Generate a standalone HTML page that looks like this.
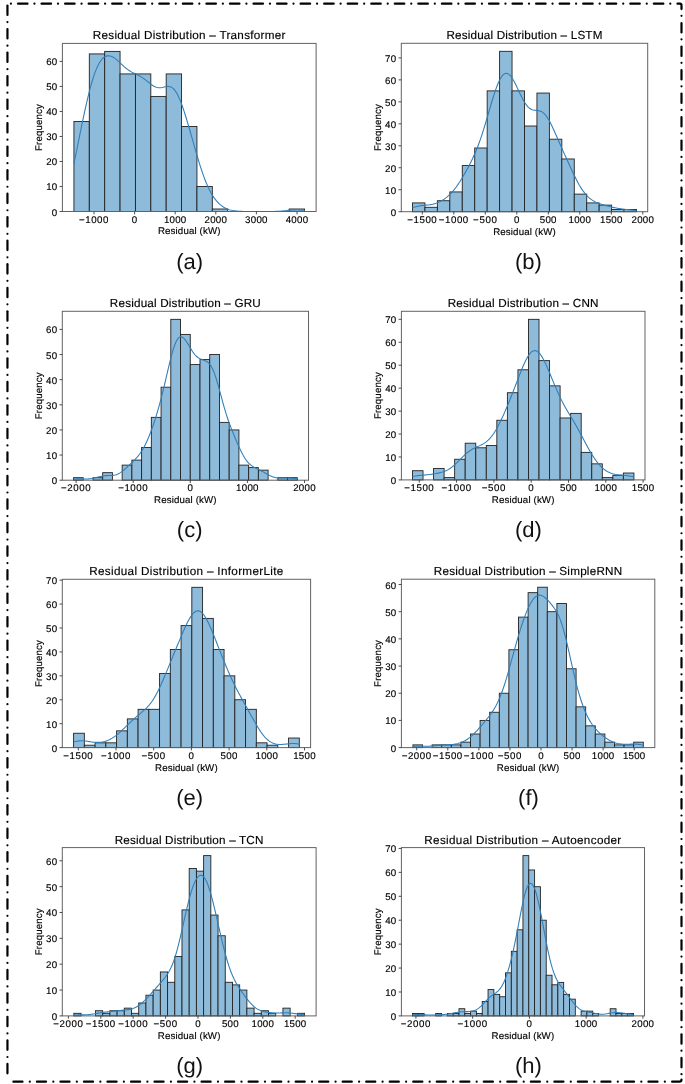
<!DOCTYPE html>
<html><head><meta charset="utf-8"><title>Residual Distributions</title>
<style>html,body{margin:0;padding:0;background:#fff}body{width:685px;height:1084px;position:relative;overflow:hidden;font-family:"Liberation Sans",sans-serif}</style></head>
<body>
<svg width="685" height="1084" viewBox="0 0 685 1084" style="position:absolute;left:0;top:0;will-change:transform;text-rendering:geometricPrecision;font-family:'Liberation Sans',sans-serif">
<rect width="685" height="1084" fill="#fff"/>
<g stroke="#000" stroke-width="2.2" stroke-linecap="round" fill="none">
<path d="M7.45 5.50L7.45 14.90"/>
<path d="M7.45 29.02L7.45 38.42"/>
<path d="M7.45 52.54L7.45 61.94"/>
<path d="M7.45 76.06L7.45 85.46"/>
<path d="M7.45 99.58L7.45 108.98"/>
<path d="M7.45 123.10L7.45 132.50"/>
<path d="M7.45 146.62L7.45 156.02"/>
<path d="M7.45 170.14L7.45 179.54"/>
<path d="M7.45 193.66L7.45 203.06"/>
<path d="M7.45 217.18L7.45 226.58"/>
<path d="M7.45 240.70L7.45 250.10"/>
<path d="M7.45 264.22L7.45 273.62"/>
<path d="M7.45 287.74L7.45 297.14"/>
<path d="M7.45 311.26L7.45 320.66"/>
<path d="M7.45 334.78L7.45 344.18"/>
<path d="M7.45 358.30L7.45 367.70"/>
<path d="M7.45 381.82L7.45 391.22"/>
<path d="M7.45 405.34L7.45 414.74"/>
<path d="M7.45 428.86L7.45 438.26"/>
<path d="M7.45 452.38L7.45 461.78"/>
<path d="M7.45 475.90L7.45 485.30"/>
<path d="M7.45 499.42L7.45 508.82"/>
<path d="M7.45 522.94L7.45 532.34"/>
<path d="M7.45 546.46L7.45 555.86"/>
<path d="M7.45 569.98L7.45 579.38"/>
<path d="M7.45 593.50L7.45 602.90"/>
<path d="M7.45 617.02L7.45 626.42"/>
<path d="M7.45 640.54L7.45 649.94"/>
<path d="M7.45 664.06L7.45 673.46"/>
<path d="M7.45 687.58L7.45 696.98"/>
<path d="M7.45 711.10L7.45 720.50"/>
<path d="M7.45 734.62L7.45 744.02"/>
<path d="M7.45 758.14L7.45 767.54"/>
<path d="M7.45 781.66L7.45 791.06"/>
<path d="M7.45 805.18L7.45 814.58"/>
<path d="M7.45 828.70L7.45 838.10"/>
<path d="M7.45 852.22L7.45 861.62"/>
<path d="M7.45 875.74L7.45 885.14"/>
<path d="M7.45 899.26L7.45 908.66"/>
<path d="M7.45 922.78L7.45 932.18"/>
<path d="M7.45 946.30L7.45 955.70"/>
<path d="M7.45 969.82L7.45 979.22"/>
<path d="M7.45 993.34L7.45 1002.74"/>
<path d="M7.45 1016.86L7.45 1026.26"/>
<path d="M7.45 1040.38L7.45 1049.78"/>
<path d="M7.45 1063.90L7.45 1073.30"/>
<path d="M7.45 22.10L7.45 22.11"/>
<path d="M7.45 45.62L7.45 45.63"/>
<path d="M7.45 69.14L7.45 69.15"/>
<path d="M7.45 92.66L7.45 92.67"/>
<path d="M7.45 116.18L7.45 116.19"/>
<path d="M7.45 139.70L7.45 139.71"/>
<path d="M7.45 163.22L7.45 163.23"/>
<path d="M7.45 186.74L7.45 186.75"/>
<path d="M7.45 210.26L7.45 210.27"/>
<path d="M7.45 233.78L7.45 233.79"/>
<path d="M7.45 257.30L7.45 257.31"/>
<path d="M7.45 280.82L7.45 280.83"/>
<path d="M7.45 304.34L7.45 304.35"/>
<path d="M7.45 327.86L7.45 327.87"/>
<path d="M7.45 351.38L7.45 351.39"/>
<path d="M7.45 374.90L7.45 374.91"/>
<path d="M7.45 398.42L7.45 398.43"/>
<path d="M7.45 421.94L7.45 421.95"/>
<path d="M7.45 445.46L7.45 445.47"/>
<path d="M7.45 468.98L7.45 468.99"/>
<path d="M7.45 492.50L7.45 492.51"/>
<path d="M7.45 516.02L7.45 516.03"/>
<path d="M7.45 539.54L7.45 539.55"/>
<path d="M7.45 563.06L7.45 563.07"/>
<path d="M7.45 586.58L7.45 586.59"/>
<path d="M7.45 610.10L7.45 610.11"/>
<path d="M7.45 633.62L7.45 633.63"/>
<path d="M7.45 657.14L7.45 657.15"/>
<path d="M7.45 680.66L7.45 680.67"/>
<path d="M7.45 704.18L7.45 704.19"/>
<path d="M7.45 727.70L7.45 727.71"/>
<path d="M7.45 751.22L7.45 751.23"/>
<path d="M7.45 774.74L7.45 774.75"/>
<path d="M7.45 798.26L7.45 798.27"/>
<path d="M7.45 821.78L7.45 821.79"/>
<path d="M7.45 845.30L7.45 845.31"/>
<path d="M7.45 868.82L7.45 868.83"/>
<path d="M7.45 892.34L7.45 892.35"/>
<path d="M7.45 915.86L7.45 915.87"/>
<path d="M7.45 939.38L7.45 939.39"/>
<path d="M7.45 962.90L7.45 962.91"/>
<path d="M7.45 986.42L7.45 986.43"/>
<path d="M7.45 1009.94L7.45 1009.95"/>
<path d="M7.45 1033.46L7.45 1033.47"/>
<path d="M7.45 1056.98L7.45 1056.99"/>
<path d="M10.90 3.70L10.91 3.70"/>
<path d="M34.45 3.70L34.46 3.70"/>
<path d="M58.00 3.70L58.01 3.70"/>
<path d="M81.55 3.70L81.56 3.70"/>
<path d="M105.10 3.70L105.11 3.70"/>
<path d="M128.65 3.70L128.66 3.70"/>
<path d="M152.20 3.70L152.21 3.70"/>
<path d="M175.75 3.70L175.76 3.70"/>
<path d="M199.30 3.70L199.31 3.70"/>
<path d="M222.85 3.70L222.86 3.70"/>
<path d="M246.40 3.70L246.41 3.70"/>
<path d="M269.95 3.70L269.96 3.70"/>
<path d="M293.50 3.70L293.51 3.70"/>
<path d="M317.05 3.70L317.06 3.70"/>
<path d="M340.60 3.70L340.61 3.70"/>
<path d="M364.15 3.70L364.16 3.70"/>
<path d="M387.70 3.70L387.71 3.70"/>
<path d="M411.25 3.70L411.26 3.70"/>
<path d="M434.80 3.70L434.81 3.70"/>
<path d="M458.35 3.70L458.36 3.70"/>
<path d="M481.90 3.70L481.91 3.70"/>
<path d="M505.45 3.70L505.46 3.70"/>
<path d="M529.00 3.70L529.01 3.70"/>
<path d="M552.55 3.70L552.56 3.70"/>
<path d="M576.10 3.70L576.11 3.70"/>
<path d="M599.65 3.70L599.66 3.70"/>
<path d="M623.20 3.70L623.21 3.70"/>
<path d="M646.75 3.70L646.76 3.70"/>
<path d="M670.30 3.70L670.31 3.70"/>
<path d="M18.00 3.70L27.50 3.70"/>
<path d="M41.55 3.70L51.05 3.70"/>
<path d="M65.10 3.70L74.60 3.70"/>
<path d="M88.65 3.70L98.15 3.70"/>
<path d="M112.20 3.70L121.70 3.70"/>
<path d="M135.75 3.70L145.25 3.70"/>
<path d="M159.30 3.70L168.80 3.70"/>
<path d="M182.85 3.70L192.35 3.70"/>
<path d="M206.40 3.70L215.90 3.70"/>
<path d="M229.95 3.70L239.45 3.70"/>
<path d="M253.50 3.70L263.00 3.70"/>
<path d="M277.05 3.70L286.55 3.70"/>
<path d="M300.60 3.70L310.10 3.70"/>
<path d="M324.15 3.70L333.65 3.70"/>
<path d="M347.70 3.70L357.20 3.70"/>
<path d="M371.25 3.70L380.75 3.70"/>
<path d="M394.80 3.70L404.30 3.70"/>
<path d="M418.35 3.70L427.85 3.70"/>
<path d="M441.90 3.70L451.40 3.70"/>
<path d="M465.45 3.70L474.95 3.70"/>
<path d="M489.00 3.70L498.50 3.70"/>
<path d="M512.55 3.70L522.05 3.70"/>
<path d="M536.10 3.70L545.60 3.70"/>
<path d="M559.65 3.70L569.15 3.70"/>
<path d="M583.20 3.70L592.70 3.70"/>
<path d="M606.75 3.70L616.25 3.70"/>
<path d="M630.30 3.70L639.80 3.70"/>
<path d="M653.85 3.70L663.35 3.70"/>
<path d="M677.50 3.7L680.00 3.7Q681.5 3.7 681.5 5.2L681.5 9.10"/>
<path d="M681.50 15.80L681.50 15.81"/>
<path d="M681.50 39.32L681.50 39.33"/>
<path d="M681.50 62.84L681.50 62.85"/>
<path d="M681.50 86.36L681.50 86.37"/>
<path d="M681.50 109.88L681.50 109.89"/>
<path d="M681.50 133.40L681.50 133.41"/>
<path d="M681.50 156.92L681.50 156.93"/>
<path d="M681.50 180.44L681.50 180.45"/>
<path d="M681.50 203.96L681.50 203.97"/>
<path d="M681.50 227.48L681.50 227.49"/>
<path d="M681.50 251.00L681.50 251.01"/>
<path d="M681.50 274.52L681.50 274.53"/>
<path d="M681.50 298.04L681.50 298.05"/>
<path d="M681.50 321.56L681.50 321.57"/>
<path d="M681.50 345.08L681.50 345.09"/>
<path d="M681.50 368.60L681.50 368.61"/>
<path d="M681.50 392.12L681.50 392.13"/>
<path d="M681.50 415.64L681.50 415.65"/>
<path d="M681.50 439.16L681.50 439.17"/>
<path d="M681.50 462.68L681.50 462.69"/>
<path d="M681.50 486.20L681.50 486.21"/>
<path d="M681.50 509.72L681.50 509.73"/>
<path d="M681.50 533.24L681.50 533.25"/>
<path d="M681.50 556.76L681.50 556.77"/>
<path d="M681.50 580.28L681.50 580.29"/>
<path d="M681.50 603.80L681.50 603.81"/>
<path d="M681.50 627.32L681.50 627.33"/>
<path d="M681.50 650.84L681.50 650.85"/>
<path d="M681.50 674.36L681.50 674.37"/>
<path d="M681.50 697.88L681.50 697.89"/>
<path d="M681.50 721.40L681.50 721.41"/>
<path d="M681.50 744.92L681.50 744.93"/>
<path d="M681.50 768.44L681.50 768.45"/>
<path d="M681.50 791.96L681.50 791.97"/>
<path d="M681.50 815.48L681.50 815.49"/>
<path d="M681.50 839.00L681.50 839.01"/>
<path d="M681.50 862.52L681.50 862.53"/>
<path d="M681.50 886.04L681.50 886.05"/>
<path d="M681.50 909.56L681.50 909.57"/>
<path d="M681.50 933.08L681.50 933.09"/>
<path d="M681.50 956.60L681.50 956.61"/>
<path d="M681.50 980.12L681.50 980.13"/>
<path d="M681.50 1003.64L681.50 1003.65"/>
<path d="M681.50 1027.16L681.50 1027.17"/>
<path d="M681.50 1050.68L681.50 1050.69"/>
<path d="M681.50 1074.20L681.50 1074.21"/>
<path d="M681.50 23.00L681.50 32.40"/>
<path d="M681.50 46.52L681.50 55.92"/>
<path d="M681.50 70.04L681.50 79.44"/>
<path d="M681.50 93.56L681.50 102.96"/>
<path d="M681.50 117.08L681.50 126.48"/>
<path d="M681.50 140.60L681.50 150.00"/>
<path d="M681.50 164.12L681.50 173.52"/>
<path d="M681.50 187.64L681.50 197.04"/>
<path d="M681.50 211.16L681.50 220.56"/>
<path d="M681.50 234.68L681.50 244.08"/>
<path d="M681.50 258.20L681.50 267.60"/>
<path d="M681.50 281.72L681.50 291.12"/>
<path d="M681.50 305.24L681.50 314.64"/>
<path d="M681.50 328.76L681.50 338.16"/>
<path d="M681.50 352.28L681.50 361.68"/>
<path d="M681.50 375.80L681.50 385.20"/>
<path d="M681.50 399.32L681.50 408.72"/>
<path d="M681.50 422.84L681.50 432.24"/>
<path d="M681.50 446.36L681.50 455.76"/>
<path d="M681.50 469.88L681.50 479.28"/>
<path d="M681.50 493.40L681.50 502.80"/>
<path d="M681.50 516.92L681.50 526.32"/>
<path d="M681.50 540.44L681.50 549.84"/>
<path d="M681.50 563.96L681.50 573.36"/>
<path d="M681.50 587.48L681.50 596.88"/>
<path d="M681.50 611.00L681.50 620.40"/>
<path d="M681.50 634.52L681.50 643.92"/>
<path d="M681.50 658.04L681.50 667.44"/>
<path d="M681.50 681.56L681.50 690.96"/>
<path d="M681.50 705.08L681.50 714.48"/>
<path d="M681.50 728.60L681.50 738.00"/>
<path d="M681.50 752.12L681.50 761.52"/>
<path d="M681.50 775.64L681.50 785.04"/>
<path d="M681.50 799.16L681.50 808.56"/>
<path d="M681.50 822.68L681.50 832.08"/>
<path d="M681.50 846.20L681.50 855.60"/>
<path d="M681.50 869.72L681.50 879.12"/>
<path d="M681.50 893.24L681.50 902.64"/>
<path d="M681.50 916.76L681.50 926.16"/>
<path d="M681.50 940.28L681.50 949.68"/>
<path d="M681.50 963.80L681.50 973.20"/>
<path d="M681.50 987.32L681.50 996.72"/>
<path d="M681.50 1010.84L681.50 1020.24"/>
<path d="M681.50 1034.36L681.50 1043.76"/>
<path d="M681.50 1057.88L681.50 1067.28"/>
<path d="M681.5 1079.6Q681.5 1081.7 679.50 1081.7L672.10 1081.7"/>
<path d="M29.80 1081.70L29.81 1081.70"/>
<path d="M53.32 1081.70L53.33 1081.70"/>
<path d="M76.84 1081.70L76.85 1081.70"/>
<path d="M100.36 1081.70L100.37 1081.70"/>
<path d="M123.88 1081.70L123.89 1081.70"/>
<path d="M147.40 1081.70L147.41 1081.70"/>
<path d="M170.92 1081.70L170.93 1081.70"/>
<path d="M194.44 1081.70L194.45 1081.70"/>
<path d="M217.96 1081.70L217.97 1081.70"/>
<path d="M241.48 1081.70L241.49 1081.70"/>
<path d="M265.00 1081.70L265.01 1081.70"/>
<path d="M288.52 1081.70L288.53 1081.70"/>
<path d="M312.04 1081.70L312.05 1081.70"/>
<path d="M335.56 1081.70L335.57 1081.70"/>
<path d="M359.08 1081.70L359.09 1081.70"/>
<path d="M382.60 1081.70L382.61 1081.70"/>
<path d="M406.12 1081.70L406.13 1081.70"/>
<path d="M429.64 1081.70L429.65 1081.70"/>
<path d="M453.16 1081.70L453.17 1081.70"/>
<path d="M476.68 1081.70L476.69 1081.70"/>
<path d="M500.20 1081.70L500.21 1081.70"/>
<path d="M523.72 1081.70L523.73 1081.70"/>
<path d="M547.24 1081.70L547.25 1081.70"/>
<path d="M570.76 1081.70L570.77 1081.70"/>
<path d="M594.28 1081.70L594.29 1081.70"/>
<path d="M617.80 1081.70L617.81 1081.70"/>
<path d="M641.32 1081.70L641.33 1081.70"/>
<path d="M664.84 1081.70L664.85 1081.70"/>
<path d="M13.40 1081.70L22.50 1081.70"/>
<path d="M36.92 1081.70L46.02 1081.70"/>
<path d="M60.44 1081.70L69.54 1081.70"/>
<path d="M83.96 1081.70L93.06 1081.70"/>
<path d="M107.48 1081.70L116.58 1081.70"/>
<path d="M131.00 1081.70L140.10 1081.70"/>
<path d="M154.52 1081.70L163.62 1081.70"/>
<path d="M178.04 1081.70L187.14 1081.70"/>
<path d="M201.56 1081.70L210.66 1081.70"/>
<path d="M225.08 1081.70L234.18 1081.70"/>
<path d="M248.60 1081.70L257.70 1081.70"/>
<path d="M272.12 1081.70L281.22 1081.70"/>
<path d="M295.64 1081.70L304.74 1081.70"/>
<path d="M319.16 1081.70L328.26 1081.70"/>
<path d="M342.68 1081.70L351.78 1081.70"/>
<path d="M366.20 1081.70L375.30 1081.70"/>
<path d="M389.72 1081.70L398.82 1081.70"/>
<path d="M413.24 1081.70L422.34 1081.70"/>
<path d="M436.76 1081.70L445.86 1081.70"/>
<path d="M460.28 1081.70L469.38 1081.70"/>
<path d="M483.80 1081.70L492.90 1081.70"/>
<path d="M507.32 1081.70L516.42 1081.70"/>
<path d="M530.84 1081.70L539.94 1081.70"/>
<path d="M554.36 1081.70L563.46 1081.70"/>
<path d="M577.88 1081.70L586.98 1081.70"/>
<path d="M601.40 1081.70L610.50 1081.70"/>
<path d="M624.92 1081.70L634.02 1081.70"/>
<path d="M648.44 1081.70L657.54 1081.70"/>
</g>
<g id="pa">
<g fill="#8fbbda" stroke="#222" stroke-width="0.9">
<rect x="73.93" y="121.45" width="15.38" height="90.05"/>
<rect x="89.31" y="53.91" width="15.38" height="157.59"/>
<rect x="104.68" y="51.40" width="15.38" height="160.10"/>
<rect x="120.06" y="73.92" width="15.38" height="137.58"/>
<rect x="135.43" y="73.92" width="15.38" height="137.58"/>
<rect x="150.81" y="96.43" width="15.38" height="115.07"/>
<rect x="166.19" y="73.92" width="15.38" height="137.58"/>
<rect x="181.56" y="126.45" width="15.38" height="85.05"/>
<rect x="196.94" y="186.49" width="15.38" height="25.01"/>
<rect x="212.31" y="209.00" width="15.38" height="2.50"/>
<rect x="289.19" y="209.00" width="15.38" height="2.50"/>
</g>
<path d="M73.93 163.33L75.09 157.87L76.25 152.28L77.41 146.60L78.57 140.89L79.73 135.18L80.89 129.50L82.04 123.89L83.20 118.38L84.36 112.98L85.52 107.71L86.68 102.61L87.84 97.69L89.00 92.97L90.16 88.48L91.32 84.23L92.48 80.26L93.63 76.56L94.79 73.17L95.95 70.10L97.11 67.34L98.27 64.90L99.43 62.78L100.59 60.98L101.75 59.46L102.91 58.24L104.07 57.28L105.22 56.57L106.38 56.10L107.54 55.85L108.70 55.80L109.86 55.94L111.02 56.25L112.18 56.72L113.34 57.34L114.50 58.08L115.65 58.92L116.81 59.87L117.97 60.88L119.13 61.94L120.29 63.03L121.45 64.13L122.61 65.23L123.77 66.29L124.93 67.31L126.09 68.28L127.24 69.18L128.40 70.02L129.56 70.79L130.72 71.49L131.88 72.14L133.04 72.75L134.20 73.32L135.36 73.87L136.52 74.43L137.68 74.99L138.83 75.58L139.99 76.21L141.15 76.89L142.31 77.62L143.47 78.41L144.63 79.25L145.79 80.14L146.95 81.06L148.11 82.00L149.27 82.93L150.42 83.85L151.58 84.71L152.74 85.50L153.90 86.20L155.06 86.78L156.22 87.23L157.38 87.54L158.54 87.72L159.70 87.76L160.86 87.68L162.01 87.51L163.17 87.27L164.33 86.99L165.49 86.73L166.65 86.52L167.81 86.41L168.97 86.45L170.13 86.69L171.29 87.15L172.44 87.88L173.60 88.90L174.76 90.22L175.92 91.86L177.08 93.81L178.24 96.06L179.40 98.60L180.56 101.40L181.72 104.44L182.88 107.70L184.03 111.14L185.19 114.74L186.35 118.47L187.51 122.31L188.67 126.24L189.83 130.23L190.99 134.28L192.15 138.36L193.31 142.45L194.47 146.54L195.62 150.59L196.78 154.59L197.94 158.52L199.10 162.36L200.26 166.08L201.42 169.66L202.58 173.09L203.74 176.35L204.90 179.44L206.06 182.35L207.21 185.08L208.37 187.63L209.53 190.00L210.69 192.20L211.85 194.23L213.01 196.11L214.17 197.83L215.33 199.41L216.49 200.85L217.64 202.16L218.80 203.35L219.96 204.43L221.12 205.40L222.28 206.26L223.44 207.03L224.60 207.71L225.76 208.31L226.92 208.83L228.08 209.29L229.23 209.68L230.39 210.01L231.55 210.30L232.71 210.54L233.87 210.74L235.03 210.90L236.19 211.04L237.35 211.14L238.51 211.23L239.67 211.30L240.82 211.35L241.98 211.39L243.14 211.42L244.30 211.44L245.46 211.46L246.62 211.47L247.78 211.48L248.94 211.49L250.10 211.49L251.26 211.49L252.41 211.50L253.57 211.50L254.73 211.50L255.89 211.50L257.05 211.50L258.21 211.50L259.37 211.50L260.53 211.50L261.69 211.50L262.85 211.50L264.00 211.50L265.16 211.50L266.32 211.49L267.48 211.49L268.64 211.49L269.80 211.48L270.96 211.47L272.12 211.46L273.28 211.44L274.43 211.42L275.59 211.39L276.75 211.35L277.91 211.30L279.07 211.25L280.23 211.18L281.39 211.10L282.55 211.01L283.71 210.91L284.87 210.79L286.02 210.67L287.18 210.54L288.34 210.41L289.50 210.29L290.66 210.17L291.82 210.06L292.98 209.97L294.14 209.90L295.30 209.85L296.46 209.82L297.61 209.83L298.77 209.86L299.93 209.91L301.09 209.99L302.25 210.09L303.41 210.20L304.57 210.32" fill="none" stroke="#2f7fb9" stroke-width="1.08" stroke-linejoin="round"/>
<rect x="62.40" y="43.40" width="253.70" height="168.10" fill="none" stroke="#626262" stroke-width="1.0"/>
<g stroke="#3a3a3a" stroke-width="0.9">
<path d="M94.00 211.50v2.8"/>
<path d="M134.60 211.50v2.8"/>
<path d="M175.20 211.50v2.8"/>
<path d="M215.80 211.50v2.8"/>
<path d="M256.40 211.50v2.8"/>
<path d="M297.00 211.50v2.8"/>
<path d="M62.40 211.50h-2.8"/>
<path d="M62.40 186.49h-2.8"/>
<path d="M62.40 161.47h-2.8"/>
<path d="M62.40 136.46h-2.8"/>
<path d="M62.40 111.44h-2.8"/>
<path d="M62.40 86.43h-2.8"/>
<path d="M62.40 61.41h-2.8"/>
</g>
<text x="94.00" y="222.70" font-size="9.7" text-anchor="middle" fill="#000" stroke="#000" stroke-width="0.15" letter-spacing="0.573" textLength="30.11" lengthAdjust="spacingAndGlyphs">−1000</text>
<text x="134.60" y="222.70" font-size="9.7" text-anchor="middle" fill="#000" stroke="#000" stroke-width="0.15" letter-spacing="0.268" textLength="5.66" lengthAdjust="spacingAndGlyphs">0</text>
<text x="175.20" y="222.70" font-size="9.7" text-anchor="middle" fill="#000" stroke="#000" stroke-width="0.15" letter-spacing="0.268" textLength="22.65" lengthAdjust="spacingAndGlyphs">1000</text>
<text x="215.80" y="222.70" font-size="9.7" text-anchor="middle" fill="#000" stroke="#000" stroke-width="0.15" letter-spacing="0.268" textLength="22.65" lengthAdjust="spacingAndGlyphs">2000</text>
<text x="256.40" y="222.70" font-size="9.7" text-anchor="middle" fill="#000" stroke="#000" stroke-width="0.15" letter-spacing="0.268" textLength="22.65" lengthAdjust="spacingAndGlyphs">3000</text>
<text x="297.00" y="222.70" font-size="9.7" text-anchor="middle" fill="#000" stroke="#000" stroke-width="0.15" letter-spacing="0.268" textLength="22.65" lengthAdjust="spacingAndGlyphs">4000</text>
<text x="57.50" y="215.50" font-size="9.7" text-anchor="end" fill="#000" stroke="#000" stroke-width="0.15" letter-spacing="0.268" textLength="5.66" lengthAdjust="spacingAndGlyphs">0</text>
<text x="57.50" y="190.49" font-size="9.7" text-anchor="end" fill="#000" stroke="#000" stroke-width="0.15" letter-spacing="0.268" textLength="11.33" lengthAdjust="spacingAndGlyphs">10</text>
<text x="57.50" y="165.47" font-size="9.7" text-anchor="end" fill="#000" stroke="#000" stroke-width="0.15" letter-spacing="0.268" textLength="11.33" lengthAdjust="spacingAndGlyphs">20</text>
<text x="57.50" y="140.46" font-size="9.7" text-anchor="end" fill="#000" stroke="#000" stroke-width="0.15" letter-spacing="0.268" textLength="11.33" lengthAdjust="spacingAndGlyphs">30</text>
<text x="57.50" y="115.44" font-size="9.7" text-anchor="end" fill="#000" stroke="#000" stroke-width="0.15" letter-spacing="0.268" textLength="11.33" lengthAdjust="spacingAndGlyphs">40</text>
<text x="57.50" y="90.43" font-size="9.7" text-anchor="end" fill="#000" stroke="#000" stroke-width="0.15" letter-spacing="0.268" textLength="11.33" lengthAdjust="spacingAndGlyphs">50</text>
<text x="57.50" y="65.41" font-size="9.7" text-anchor="end" fill="#000" stroke="#000" stroke-width="0.15" letter-spacing="0.268" textLength="11.33" lengthAdjust="spacingAndGlyphs">60</text>
<text x="189.25" y="234.40" font-size="9.7" text-anchor="middle" fill="#000" stroke="#000" stroke-width="0.15" letter-spacing="0.137" textLength="62.69" lengthAdjust="spacingAndGlyphs">Residual (kW)</text>
<text transform="translate(42.30 127.45) rotate(-90)" font-size="9.7" text-anchor="middle" fill="#000" stroke="#000" stroke-width="0.15" letter-spacing="0.131" textLength="47.01" lengthAdjust="spacingAndGlyphs">Frequency</text>
<text x="189.25" y="39.40" font-size="11.7" text-anchor="middle" fill="#000" stroke="#000" stroke-width="0.15" letter-spacing="0.274" textLength="192.98" lengthAdjust="spacingAndGlyphs">Residual Distribution – Transformer</text>
<text x="189.70" y="268.90" font-size="22" text-anchor="middle" fill="#111">(a)</text>
</g>
<g id="pb">
<g fill="#8fbbda" stroke="#222" stroke-width="0.9">
<rect x="412.50" y="202.91" width="12.44" height="8.79"/>
<rect x="424.94" y="207.31" width="12.44" height="4.39"/>
<rect x="437.39" y="200.72" width="12.44" height="10.98"/>
<rect x="449.83" y="191.93" width="12.44" height="19.77"/>
<rect x="462.28" y="165.56" width="12.44" height="46.14"/>
<rect x="474.72" y="147.99" width="12.44" height="63.71"/>
<rect x="487.17" y="90.87" width="12.44" height="120.83"/>
<rect x="499.61" y="51.32" width="12.44" height="160.38"/>
<rect x="512.06" y="90.87" width="12.44" height="120.83"/>
<rect x="524.50" y="126.02" width="12.44" height="85.68"/>
<rect x="536.94" y="93.06" width="12.44" height="118.64"/>
<rect x="549.39" y="139.20" width="12.44" height="72.50"/>
<rect x="561.83" y="158.97" width="12.44" height="52.73"/>
<rect x="574.28" y="194.12" width="12.44" height="17.58"/>
<rect x="586.72" y="202.91" width="12.44" height="8.79"/>
<rect x="599.17" y="205.11" width="12.44" height="6.59"/>
<rect x="611.61" y="209.50" width="12.44" height="2.20"/>
<rect x="624.06" y="209.50" width="12.44" height="2.20"/>
</g>
<path d="M412.50 207.69L413.63 207.35L414.75 207.02L415.88 206.72L417.00 206.45L418.13 206.20L419.25 205.98L420.38 205.79L421.51 205.63L422.63 205.49L423.76 205.37L424.88 205.26L426.01 205.15L427.13 205.04L428.26 204.92L429.38 204.78L430.51 204.61L431.64 204.41L432.76 204.17L433.89 203.89L435.01 203.57L436.14 203.20L437.26 202.78L438.39 202.31L439.52 201.79L440.64 201.22L441.77 200.60L442.89 199.92L444.02 199.19L445.14 198.40L446.27 197.56L447.39 196.65L448.52 195.67L449.65 194.63L450.77 193.51L451.90 192.31L453.02 191.04L454.15 189.69L455.27 188.26L456.40 186.75L457.53 185.17L458.65 183.52L459.78 181.80L460.90 180.01L462.03 178.17L463.15 176.28L464.28 174.34L465.40 172.36L466.53 170.33L467.66 168.26L468.78 166.14L469.91 163.97L471.03 161.74L472.16 159.44L473.28 157.05L474.41 154.57L475.54 151.98L476.66 149.27L477.79 146.44L478.91 143.46L480.04 140.35L481.16 137.09L482.29 133.69L483.41 130.16L484.54 126.52L485.67 122.78L486.79 118.96L487.92 115.10L489.04 111.21L490.17 107.33L491.29 103.50L492.42 99.76L493.55 96.12L494.67 92.65L495.80 89.36L496.92 86.30L498.05 83.49L499.17 80.98L500.30 78.79L501.42 76.95L502.55 75.47L503.68 74.37L504.80 73.66L505.93 73.35L507.05 73.42L508.18 73.87L509.30 74.68L510.43 75.82L511.56 77.26L512.68 78.96L513.81 80.90L514.93 83.01L516.06 85.27L517.18 87.62L518.31 90.02L519.43 92.42L520.56 94.78L521.69 97.06L522.81 99.22L523.94 101.23L525.06 103.06L526.19 104.69L527.31 106.10L528.44 107.29L529.57 108.25L530.69 108.99L531.82 109.54L532.94 109.92L534.07 110.16L535.19 110.31L536.32 110.41L537.44 110.51L538.57 110.66L539.70 110.91L540.82 111.29L541.95 111.84L543.07 112.59L544.20 113.57L545.32 114.77L546.45 116.20L547.58 117.85L548.70 119.70L549.83 121.74L550.95 123.94L552.08 126.26L553.20 128.69L554.33 131.18L555.45 133.72L556.58 136.29L557.71 138.87L558.83 141.45L559.96 144.01L561.08 146.56L562.21 149.09L563.33 151.60L564.46 154.10L565.59 156.59L566.71 159.07L567.84 161.55L568.96 164.01L570.09 166.47L571.21 168.90L572.34 171.32L573.46 173.70L574.59 176.03L575.72 178.31L576.84 180.51L577.97 182.64L579.09 184.67L580.22 186.60L581.34 188.41L582.47 190.11L583.60 191.69L584.72 193.15L585.85 194.50L586.97 195.72L588.10 196.84L589.22 197.85L590.35 198.77L591.47 199.59L592.60 200.34L593.73 201.01L594.85 201.62L595.98 202.17L597.10 202.68L598.23 203.14L599.35 203.57L600.48 203.96L601.61 204.34L602.73 204.69L603.86 205.03L604.98 205.36L606.11 205.67L607.23 205.98L608.36 206.27L609.48 206.56L610.61 206.83L611.74 207.10L612.86 207.36L613.99 207.60L615.11 207.84L616.24 208.06L617.36 208.26L618.49 208.45L619.62 208.63L620.74 208.80L621.87 208.96L622.99 209.10L624.12 209.24L625.24 209.37L626.37 209.49L627.49 209.61L628.62 209.73L629.75 209.85L630.87 209.97L632.00 210.09L633.12 210.21L634.25 210.34L635.37 210.46L636.50 210.58" fill="none" stroke="#2f7fb9" stroke-width="1.08" stroke-linejoin="round"/>
<rect x="401.30" y="43.30" width="246.40" height="168.40" fill="none" stroke="#626262" stroke-width="1.0"/>
<g stroke="#3a3a3a" stroke-width="0.9">
<path d="M422.30 211.70v2.8"/>
<path d="M453.80 211.70v2.8"/>
<path d="M485.30 211.70v2.8"/>
<path d="M516.80 211.70v2.8"/>
<path d="M548.30 211.70v2.8"/>
<path d="M579.80 211.70v2.8"/>
<path d="M611.30 211.70v2.8"/>
<path d="M642.80 211.70v2.8"/>
<path d="M401.30 211.70h-2.8"/>
<path d="M401.30 189.73h-2.8"/>
<path d="M401.30 167.76h-2.8"/>
<path d="M401.30 145.79h-2.8"/>
<path d="M401.30 123.82h-2.8"/>
<path d="M401.30 101.85h-2.8"/>
<path d="M401.30 79.88h-2.8"/>
<path d="M401.30 57.91h-2.8"/>
</g>
<text x="422.30" y="222.90" font-size="9.7" text-anchor="middle" fill="#000" stroke="#000" stroke-width="0.15" letter-spacing="0.573" textLength="30.11" lengthAdjust="spacingAndGlyphs">−1500</text>
<text x="453.80" y="222.90" font-size="9.7" text-anchor="middle" fill="#000" stroke="#000" stroke-width="0.15" letter-spacing="0.573" textLength="30.11" lengthAdjust="spacingAndGlyphs">−1000</text>
<text x="485.30" y="222.90" font-size="9.7" text-anchor="middle" fill="#000" stroke="#000" stroke-width="0.15" letter-spacing="0.649" textLength="24.45" lengthAdjust="spacingAndGlyphs">−500</text>
<text x="516.80" y="222.90" font-size="9.7" text-anchor="middle" fill="#000" stroke="#000" stroke-width="0.15" letter-spacing="0.268" textLength="5.66" lengthAdjust="spacingAndGlyphs">0</text>
<text x="548.30" y="222.90" font-size="9.7" text-anchor="middle" fill="#000" stroke="#000" stroke-width="0.15" letter-spacing="0.268" textLength="16.99" lengthAdjust="spacingAndGlyphs">500</text>
<text x="579.80" y="222.90" font-size="9.7" text-anchor="middle" fill="#000" stroke="#000" stroke-width="0.15" letter-spacing="0.268" textLength="22.65" lengthAdjust="spacingAndGlyphs">1000</text>
<text x="611.30" y="222.90" font-size="9.7" text-anchor="middle" fill="#000" stroke="#000" stroke-width="0.15" letter-spacing="0.268" textLength="22.65" lengthAdjust="spacingAndGlyphs">1500</text>
<text x="642.80" y="222.90" font-size="9.7" text-anchor="middle" fill="#000" stroke="#000" stroke-width="0.15" letter-spacing="0.268" textLength="22.65" lengthAdjust="spacingAndGlyphs">2000</text>
<text x="396.40" y="215.70" font-size="9.7" text-anchor="end" fill="#000" stroke="#000" stroke-width="0.15" letter-spacing="0.268" textLength="5.66" lengthAdjust="spacingAndGlyphs">0</text>
<text x="396.40" y="193.73" font-size="9.7" text-anchor="end" fill="#000" stroke="#000" stroke-width="0.15" letter-spacing="0.268" textLength="11.33" lengthAdjust="spacingAndGlyphs">10</text>
<text x="396.40" y="171.76" font-size="9.7" text-anchor="end" fill="#000" stroke="#000" stroke-width="0.15" letter-spacing="0.268" textLength="11.33" lengthAdjust="spacingAndGlyphs">20</text>
<text x="396.40" y="149.79" font-size="9.7" text-anchor="end" fill="#000" stroke="#000" stroke-width="0.15" letter-spacing="0.268" textLength="11.33" lengthAdjust="spacingAndGlyphs">30</text>
<text x="396.40" y="127.82" font-size="9.7" text-anchor="end" fill="#000" stroke="#000" stroke-width="0.15" letter-spacing="0.268" textLength="11.33" lengthAdjust="spacingAndGlyphs">40</text>
<text x="396.40" y="105.85" font-size="9.7" text-anchor="end" fill="#000" stroke="#000" stroke-width="0.15" letter-spacing="0.268" textLength="11.33" lengthAdjust="spacingAndGlyphs">50</text>
<text x="396.40" y="83.88" font-size="9.7" text-anchor="end" fill="#000" stroke="#000" stroke-width="0.15" letter-spacing="0.268" textLength="11.33" lengthAdjust="spacingAndGlyphs">60</text>
<text x="396.40" y="61.91" font-size="9.7" text-anchor="end" fill="#000" stroke="#000" stroke-width="0.15" letter-spacing="0.268" textLength="11.33" lengthAdjust="spacingAndGlyphs">70</text>
<text x="524.50" y="234.60" font-size="9.7" text-anchor="middle" fill="#000" stroke="#000" stroke-width="0.15" letter-spacing="0.137" textLength="62.69" lengthAdjust="spacingAndGlyphs">Residual (kW)</text>
<text transform="translate(381.20 127.50) rotate(-90)" font-size="9.7" text-anchor="middle" fill="#000" stroke="#000" stroke-width="0.15" letter-spacing="0.131" textLength="47.01" lengthAdjust="spacingAndGlyphs">Frequency</text>
<text x="524.50" y="39.30" font-size="11.7" text-anchor="middle" fill="#000" stroke="#000" stroke-width="0.15" letter-spacing="0.168" textLength="156.22" lengthAdjust="spacingAndGlyphs">Residual Distribution – LSTM</text>
<text x="528.50" y="268.90" font-size="22" text-anchor="middle" fill="#111">(b)</text>
</g>
<g id="pc">
<g fill="#8fbbda" stroke="#222" stroke-width="0.9">
<rect x="73.49" y="477.69" width="9.73" height="2.51"/>
<rect x="92.95" y="477.69" width="9.73" height="2.51"/>
<rect x="102.68" y="472.66" width="9.73" height="7.54"/>
<rect x="122.15" y="465.12" width="9.73" height="15.08"/>
<rect x="131.88" y="460.09" width="9.73" height="20.11"/>
<rect x="141.61" y="447.53" width="9.73" height="32.67"/>
<rect x="151.34" y="417.37" width="9.73" height="62.83"/>
<rect x="161.07" y="387.20" width="9.73" height="93.00"/>
<rect x="170.80" y="319.34" width="9.73" height="160.86"/>
<rect x="180.53" y="334.42" width="9.73" height="145.78"/>
<rect x="190.27" y="364.58" width="9.73" height="115.62"/>
<rect x="200.00" y="359.56" width="9.73" height="120.64"/>
<rect x="209.73" y="354.53" width="9.73" height="125.67"/>
<rect x="219.46" y="422.39" width="9.73" height="57.81"/>
<rect x="229.19" y="429.93" width="9.73" height="50.27"/>
<rect x="238.92" y="465.12" width="9.73" height="15.08"/>
<rect x="248.65" y="467.63" width="9.73" height="12.57"/>
<rect x="258.38" y="470.15" width="9.73" height="10.05"/>
<rect x="277.85" y="477.69" width="9.73" height="2.51"/>
<rect x="287.58" y="477.69" width="9.73" height="2.51"/>
</g>
<path d="M73.49 479.15L74.62 479.05L75.74 478.97L76.87 478.91L77.99 478.87L79.11 478.85L80.24 478.86L81.36 478.87L82.49 478.90L83.61 478.92L84.74 478.94L85.86 478.94L86.99 478.92L88.11 478.87L89.24 478.79L90.36 478.67L91.49 478.51L92.61 478.31L93.74 478.08L94.86 477.83L95.99 477.56L97.11 477.28L98.23 477.00L99.36 476.72L100.48 476.46L101.61 476.23L102.73 476.03L103.86 475.87L104.98 475.74L106.11 475.66L107.23 475.60L108.36 475.57L109.48 475.55L110.61 475.53L111.73 475.49L112.86 475.40L113.98 475.25L115.11 475.03L116.23 474.71L117.35 474.29L118.48 473.77L119.60 473.14L120.73 472.41L121.85 471.60L122.98 470.72L124.10 469.77L125.23 468.79L126.35 467.78L127.48 466.75L128.60 465.71L129.73 464.67L130.85 463.62L131.98 462.56L133.10 461.48L134.23 460.37L135.35 459.21L136.47 457.99L137.60 456.69L138.72 455.30L139.85 453.80L140.97 452.18L142.10 450.43L143.22 448.54L144.35 446.50L145.47 444.30L146.60 441.95L147.72 439.45L148.85 436.79L149.97 433.98L151.10 431.02L152.22 427.93L153.35 424.70L154.47 421.34L155.60 417.83L156.72 414.19L157.84 410.40L158.97 406.46L160.09 402.36L161.22 398.10L162.34 393.67L163.47 389.10L164.59 384.39L165.72 379.58L166.84 374.72L167.97 369.87L169.09 365.08L170.22 360.45L171.34 356.04L172.47 351.95L173.59 348.25L174.72 345.00L175.84 342.26L176.96 340.07L178.09 338.44L179.21 337.38L180.34 336.86L181.46 336.85L182.59 337.31L183.71 338.17L184.84 339.38L185.96 340.86L187.09 342.55L188.21 344.37L189.34 346.26L190.46 348.15L191.59 349.99L192.71 351.73L193.84 353.32L194.96 354.75L196.08 355.98L197.21 357.02L198.33 357.88L199.46 358.56L200.58 359.09L201.71 359.52L202.83 359.89L203.96 360.26L205.08 360.67L206.21 361.19L207.33 361.89L208.46 362.82L209.58 364.04L210.71 365.59L211.83 367.51L212.96 369.82L214.08 372.53L215.20 375.61L216.33 379.04L217.45 382.77L218.58 386.72L219.70 390.83L220.83 395.02L221.95 399.21L223.08 403.33L224.20 407.34L225.33 411.18L226.45 414.83L227.58 418.29L228.70 421.57L229.83 424.68L230.95 427.65L232.08 430.51L233.20 433.29L234.33 436.02L235.45 438.70L236.57 441.34L237.70 443.93L238.82 446.47L239.95 448.93L241.07 451.29L242.20 453.52L243.32 455.60L244.45 457.52L245.57 459.26L246.70 460.82L247.82 462.20L248.95 463.41L250.07 464.47L251.20 465.38L252.32 466.18L253.45 466.89L254.57 467.53L255.69 468.12L256.82 468.68L257.94 469.23L259.07 469.78L260.19 470.34L261.32 470.92L262.44 471.52L263.57 472.14L264.69 472.77L265.82 473.41L266.94 474.05L268.07 474.67L269.19 475.26L270.32 475.81L271.44 476.31L272.57 476.75L273.69 477.13L274.81 477.44L275.94 477.68L277.06 477.85L278.19 477.97L279.31 478.04L280.44 478.08L281.56 478.09L282.69 478.08L283.81 478.06L284.94 478.05L286.06 478.04L287.19 478.05L288.31 478.07L289.44 478.12L290.56 478.19L291.69 478.27L292.81 478.38L293.93 478.51L295.06 478.64L296.18 478.79L297.31 478.95" fill="none" stroke="#2f7fb9" stroke-width="1.08" stroke-linejoin="round"/>
<rect x="62.30" y="311.30" width="246.20" height="168.90" fill="none" stroke="#626262" stroke-width="1.0"/>
<g stroke="#3a3a3a" stroke-width="0.9">
<path d="M76.10 480.20v2.8"/>
<path d="M133.20 480.20v2.8"/>
<path d="M190.30 480.20v2.8"/>
<path d="M247.40 480.20v2.8"/>
<path d="M304.50 480.20v2.8"/>
<path d="M62.30 480.20h-2.8"/>
<path d="M62.30 455.07h-2.8"/>
<path d="M62.30 429.93h-2.8"/>
<path d="M62.30 404.80h-2.8"/>
<path d="M62.30 379.66h-2.8"/>
<path d="M62.30 354.53h-2.8"/>
<path d="M62.30 329.40h-2.8"/>
</g>
<text x="76.10" y="491.40" font-size="9.7" text-anchor="middle" fill="#000" stroke="#000" stroke-width="0.15" letter-spacing="0.573" textLength="30.11" lengthAdjust="spacingAndGlyphs">−2000</text>
<text x="133.20" y="491.40" font-size="9.7" text-anchor="middle" fill="#000" stroke="#000" stroke-width="0.15" letter-spacing="0.573" textLength="30.11" lengthAdjust="spacingAndGlyphs">−1000</text>
<text x="190.30" y="491.40" font-size="9.7" text-anchor="middle" fill="#000" stroke="#000" stroke-width="0.15" letter-spacing="0.268" textLength="5.66" lengthAdjust="spacingAndGlyphs">0</text>
<text x="247.40" y="491.40" font-size="9.7" text-anchor="middle" fill="#000" stroke="#000" stroke-width="0.15" letter-spacing="0.268" textLength="22.65" lengthAdjust="spacingAndGlyphs">1000</text>
<text x="304.50" y="491.40" font-size="9.7" text-anchor="middle" fill="#000" stroke="#000" stroke-width="0.15" letter-spacing="0.268" textLength="22.65" lengthAdjust="spacingAndGlyphs">2000</text>
<text x="57.40" y="484.20" font-size="9.7" text-anchor="end" fill="#000" stroke="#000" stroke-width="0.15" letter-spacing="0.268" textLength="5.66" lengthAdjust="spacingAndGlyphs">0</text>
<text x="57.40" y="459.07" font-size="9.7" text-anchor="end" fill="#000" stroke="#000" stroke-width="0.15" letter-spacing="0.268" textLength="11.33" lengthAdjust="spacingAndGlyphs">10</text>
<text x="57.40" y="433.93" font-size="9.7" text-anchor="end" fill="#000" stroke="#000" stroke-width="0.15" letter-spacing="0.268" textLength="11.33" lengthAdjust="spacingAndGlyphs">20</text>
<text x="57.40" y="408.80" font-size="9.7" text-anchor="end" fill="#000" stroke="#000" stroke-width="0.15" letter-spacing="0.268" textLength="11.33" lengthAdjust="spacingAndGlyphs">30</text>
<text x="57.40" y="383.66" font-size="9.7" text-anchor="end" fill="#000" stroke="#000" stroke-width="0.15" letter-spacing="0.268" textLength="11.33" lengthAdjust="spacingAndGlyphs">40</text>
<text x="57.40" y="358.53" font-size="9.7" text-anchor="end" fill="#000" stroke="#000" stroke-width="0.15" letter-spacing="0.268" textLength="11.33" lengthAdjust="spacingAndGlyphs">50</text>
<text x="57.40" y="333.40" font-size="9.7" text-anchor="end" fill="#000" stroke="#000" stroke-width="0.15" letter-spacing="0.268" textLength="11.33" lengthAdjust="spacingAndGlyphs">60</text>
<text x="185.40" y="503.10" font-size="9.7" text-anchor="middle" fill="#000" stroke="#000" stroke-width="0.15" letter-spacing="0.137" textLength="62.69" lengthAdjust="spacingAndGlyphs">Residual (kW)</text>
<text transform="translate(42.20 395.75) rotate(-90)" font-size="9.7" text-anchor="middle" fill="#000" stroke="#000" stroke-width="0.15" letter-spacing="0.131" textLength="47.01" lengthAdjust="spacingAndGlyphs">Frequency</text>
<text x="185.40" y="307.30" font-size="11.7" text-anchor="middle" fill="#000" stroke="#000" stroke-width="0.15" letter-spacing="0.178" textLength="151.11" lengthAdjust="spacingAndGlyphs">Residual Distribution – GRU</text>
<text x="189.70" y="536.90" font-size="22" text-anchor="middle" fill="#111">(c)</text>
</g>
<g id="pd">
<g fill="#8fbbda" stroke="#222" stroke-width="0.9">
<rect x="412.47" y="470.72" width="10.55" height="9.18"/>
<rect x="433.56" y="468.43" width="10.55" height="11.47"/>
<rect x="444.11" y="477.61" width="10.55" height="2.29"/>
<rect x="454.65" y="459.26" width="10.55" height="20.64"/>
<rect x="465.20" y="443.20" width="10.55" height="36.70"/>
<rect x="475.75" y="447.79" width="10.55" height="32.11"/>
<rect x="486.29" y="445.49" width="10.55" height="34.41"/>
<rect x="496.84" y="420.26" width="10.55" height="59.64"/>
<rect x="507.38" y="392.73" width="10.55" height="87.17"/>
<rect x="517.93" y="369.79" width="10.55" height="110.11"/>
<rect x="528.47" y="319.33" width="10.55" height="160.57"/>
<rect x="539.02" y="360.62" width="10.55" height="119.28"/>
<rect x="549.56" y="385.85" width="10.55" height="94.05"/>
<rect x="560.11" y="417.97" width="10.55" height="61.93"/>
<rect x="570.65" y="413.38" width="10.55" height="66.52"/>
<rect x="581.20" y="452.37" width="10.55" height="27.53"/>
<rect x="591.75" y="463.84" width="10.55" height="16.06"/>
<rect x="602.29" y="477.61" width="10.55" height="2.29"/>
<rect x="612.84" y="475.31" width="10.55" height="4.59"/>
<rect x="623.38" y="473.02" width="10.55" height="6.88"/>
</g>
<path d="M412.47 476.49L413.59 476.28L414.70 476.09L415.81 475.91L416.92 475.75L418.04 475.61L419.15 475.48L420.26 475.37L421.38 475.27L422.49 475.18L423.60 475.09L424.71 475.00L425.83 474.91L426.94 474.81L428.05 474.70L429.17 474.58L430.28 474.44L431.39 474.30L432.50 474.14L433.62 473.96L434.73 473.78L435.84 473.58L436.96 473.36L438.07 473.13L439.18 472.88L440.29 472.60L441.41 472.30L442.52 471.97L443.63 471.60L444.74 471.18L445.86 470.72L446.97 470.20L448.08 469.62L449.20 468.97L450.31 468.26L451.42 467.48L452.53 466.63L453.65 465.72L454.76 464.75L455.87 463.72L456.99 462.66L458.10 461.56L459.21 460.44L460.32 459.30L461.44 458.17L462.55 457.06L463.66 455.97L464.78 454.91L465.89 453.90L467.00 452.94L468.11 452.04L469.23 451.20L470.34 450.42L471.45 449.71L472.57 449.05L473.68 448.45L474.79 447.89L475.90 447.36L477.02 446.86L478.13 446.37L479.24 445.88L480.36 445.37L481.47 444.83L482.58 444.25L483.69 443.61L484.81 442.89L485.92 442.09L487.03 441.20L488.15 440.20L489.26 439.09L490.37 437.87L491.48 436.53L492.60 435.06L493.71 433.47L494.82 431.77L495.94 429.94L497.05 428.01L498.16 425.97L499.27 423.83L500.39 421.59L501.50 419.27L502.61 416.88L503.73 414.41L504.84 411.88L505.95 409.30L507.06 406.66L508.18 403.97L509.29 401.24L510.40 398.48L511.52 395.68L512.63 392.85L513.74 389.99L514.85 387.12L515.97 384.23L517.08 381.34L518.19 378.46L519.31 375.59L520.42 372.77L521.53 370.00L522.64 367.32L523.76 364.74L524.87 362.29L525.98 360.00L527.09 357.90L528.21 356.02L529.32 354.38L530.43 353.00L531.55 351.92L532.66 351.14L533.77 350.68L534.88 350.54L536.00 350.72L537.11 351.22L538.22 352.03L539.34 353.14L540.45 354.51L541.56 356.14L542.67 358.00L543.79 360.05L544.90 362.28L546.01 364.64L547.13 367.13L548.24 369.70L549.35 372.33L550.46 375.01L551.58 377.71L552.69 380.41L553.80 383.09L554.92 385.73L556.03 388.34L557.14 390.88L558.25 393.37L559.37 395.78L560.48 398.11L561.59 400.37L562.71 402.54L563.82 404.65L564.93 406.68L566.04 408.66L567.16 410.58L568.27 412.46L569.38 414.32L570.50 416.16L571.61 417.99L572.72 419.84L573.83 421.71L574.95 423.61L576.06 425.54L577.17 427.51L578.29 429.52L579.40 431.57L580.51 433.64L581.62 435.75L582.74 437.87L583.85 439.99L584.96 442.11L586.08 444.21L587.19 446.29L588.30 448.32L589.41 450.30L590.53 452.22L591.64 454.08L592.75 455.86L593.87 457.57L594.98 459.19L596.09 460.73L597.20 462.19L598.32 463.56L599.43 464.84L600.54 466.04L601.66 467.15L602.77 468.17L603.88 469.11L604.99 469.97L606.11 470.74L607.22 471.44L608.33 472.05L609.44 472.59L610.56 473.06L611.67 473.46L612.78 473.80L613.90 474.09L615.01 474.33L616.12 474.53L617.23 474.69L618.35 474.82L619.46 474.93L620.57 475.04L621.69 475.13L622.80 475.22L623.91 475.32L625.02 475.43L626.14 475.56L627.25 475.69L628.36 475.85L629.48 476.02L630.59 476.21L631.70 476.41L632.81 476.63L633.93 476.85" fill="none" stroke="#2f7fb9" stroke-width="1.08" stroke-linejoin="round"/>
<rect x="401.40" y="311.30" width="243.60" height="168.60" fill="none" stroke="#626262" stroke-width="1.0"/>
<g stroke="#3a3a3a" stroke-width="0.9">
<path d="M419.30 479.90v2.8"/>
<path d="M456.60 479.90v2.8"/>
<path d="M493.90 479.90v2.8"/>
<path d="M531.20 479.90v2.8"/>
<path d="M568.50 479.90v2.8"/>
<path d="M605.80 479.90v2.8"/>
<path d="M643.10 479.90v2.8"/>
<path d="M401.40 479.90h-2.8"/>
<path d="M401.40 456.96h-2.8"/>
<path d="M401.40 434.02h-2.8"/>
<path d="M401.40 411.08h-2.8"/>
<path d="M401.40 388.14h-2.8"/>
<path d="M401.40 365.21h-2.8"/>
<path d="M401.40 342.27h-2.8"/>
<path d="M401.40 319.33h-2.8"/>
</g>
<text x="419.30" y="491.10" font-size="9.7" text-anchor="middle" fill="#000" stroke="#000" stroke-width="0.15" letter-spacing="0.573" textLength="30.11" lengthAdjust="spacingAndGlyphs">−1500</text>
<text x="456.60" y="491.10" font-size="9.7" text-anchor="middle" fill="#000" stroke="#000" stroke-width="0.15" letter-spacing="0.573" textLength="30.11" lengthAdjust="spacingAndGlyphs">−1000</text>
<text x="493.90" y="491.10" font-size="9.7" text-anchor="middle" fill="#000" stroke="#000" stroke-width="0.15" letter-spacing="0.649" textLength="24.45" lengthAdjust="spacingAndGlyphs">−500</text>
<text x="531.20" y="491.10" font-size="9.7" text-anchor="middle" fill="#000" stroke="#000" stroke-width="0.15" letter-spacing="0.268" textLength="5.66" lengthAdjust="spacingAndGlyphs">0</text>
<text x="568.50" y="491.10" font-size="9.7" text-anchor="middle" fill="#000" stroke="#000" stroke-width="0.15" letter-spacing="0.268" textLength="16.99" lengthAdjust="spacingAndGlyphs">500</text>
<text x="605.80" y="491.10" font-size="9.7" text-anchor="middle" fill="#000" stroke="#000" stroke-width="0.15" letter-spacing="0.268" textLength="22.65" lengthAdjust="spacingAndGlyphs">1000</text>
<text x="643.10" y="491.10" font-size="9.7" text-anchor="middle" fill="#000" stroke="#000" stroke-width="0.15" letter-spacing="0.268" textLength="22.65" lengthAdjust="spacingAndGlyphs">1500</text>
<text x="396.50" y="483.90" font-size="9.7" text-anchor="end" fill="#000" stroke="#000" stroke-width="0.15" letter-spacing="0.268" textLength="5.66" lengthAdjust="spacingAndGlyphs">0</text>
<text x="396.50" y="460.96" font-size="9.7" text-anchor="end" fill="#000" stroke="#000" stroke-width="0.15" letter-spacing="0.268" textLength="11.33" lengthAdjust="spacingAndGlyphs">10</text>
<text x="396.50" y="438.02" font-size="9.7" text-anchor="end" fill="#000" stroke="#000" stroke-width="0.15" letter-spacing="0.268" textLength="11.33" lengthAdjust="spacingAndGlyphs">20</text>
<text x="396.50" y="415.08" font-size="9.7" text-anchor="end" fill="#000" stroke="#000" stroke-width="0.15" letter-spacing="0.268" textLength="11.33" lengthAdjust="spacingAndGlyphs">30</text>
<text x="396.50" y="392.14" font-size="9.7" text-anchor="end" fill="#000" stroke="#000" stroke-width="0.15" letter-spacing="0.268" textLength="11.33" lengthAdjust="spacingAndGlyphs">40</text>
<text x="396.50" y="369.21" font-size="9.7" text-anchor="end" fill="#000" stroke="#000" stroke-width="0.15" letter-spacing="0.268" textLength="11.33" lengthAdjust="spacingAndGlyphs">50</text>
<text x="396.50" y="346.27" font-size="9.7" text-anchor="end" fill="#000" stroke="#000" stroke-width="0.15" letter-spacing="0.268" textLength="11.33" lengthAdjust="spacingAndGlyphs">60</text>
<text x="396.50" y="323.33" font-size="9.7" text-anchor="end" fill="#000" stroke="#000" stroke-width="0.15" letter-spacing="0.268" textLength="11.33" lengthAdjust="spacingAndGlyphs">70</text>
<text x="523.20" y="502.80" font-size="9.7" text-anchor="middle" fill="#000" stroke="#000" stroke-width="0.15" letter-spacing="0.137" textLength="62.69" lengthAdjust="spacingAndGlyphs">Residual (kW)</text>
<text transform="translate(381.30 395.60) rotate(-90)" font-size="9.7" text-anchor="middle" fill="#000" stroke="#000" stroke-width="0.15" letter-spacing="0.131" textLength="47.01" lengthAdjust="spacingAndGlyphs">Frequency</text>
<text x="523.20" y="307.30" font-size="11.7" text-anchor="middle" fill="#000" stroke="#000" stroke-width="0.15" letter-spacing="0.199" textLength="151.03" lengthAdjust="spacingAndGlyphs">Residual Distribution – CNN</text>
<text x="528.50" y="536.90" font-size="22" text-anchor="middle" fill="#111">(d)</text>
</g>
<g id="pe">
<g fill="#8fbbda" stroke="#222" stroke-width="0.9">
<rect x="73.59" y="733.25" width="10.75" height="14.35"/>
<rect x="84.34" y="745.21" width="10.75" height="2.39"/>
<rect x="95.08" y="742.82" width="10.75" height="4.78"/>
<rect x="105.83" y="742.82" width="10.75" height="4.78"/>
<rect x="116.58" y="730.85" width="10.75" height="16.75"/>
<rect x="127.33" y="718.89" width="10.75" height="28.71"/>
<rect x="138.08" y="709.32" width="10.75" height="38.28"/>
<rect x="148.83" y="709.32" width="10.75" height="38.28"/>
<rect x="159.58" y="673.44" width="10.75" height="74.16"/>
<rect x="170.33" y="649.51" width="10.75" height="98.09"/>
<rect x="181.08" y="625.59" width="10.75" height="122.01"/>
<rect x="191.82" y="587.31" width="10.75" height="160.29"/>
<rect x="202.57" y="618.41" width="10.75" height="129.19"/>
<rect x="213.32" y="649.51" width="10.75" height="98.09"/>
<rect x="224.07" y="675.83" width="10.75" height="71.77"/>
<rect x="234.82" y="699.75" width="10.75" height="47.85"/>
<rect x="245.57" y="709.32" width="10.75" height="38.28"/>
<rect x="256.32" y="742.82" width="10.75" height="4.78"/>
<rect x="267.07" y="745.21" width="10.75" height="2.39"/>
<rect x="288.56" y="738.03" width="10.75" height="9.57"/>
</g>
<path d="M73.59 742.09L74.72 741.75L75.85 741.45L76.99 741.19L78.12 741.00L79.26 740.85L80.39 740.77L81.53 740.74L82.66 740.76L83.80 740.83L84.93 740.94L86.06 741.08L87.20 741.25L88.33 741.43L89.47 741.61L90.60 741.80L91.74 741.96L92.87 742.12L94.00 742.24L95.14 742.33L96.27 742.39L97.41 742.41L98.54 742.39L99.68 742.32L100.81 742.21L101.94 742.05L103.08 741.84L104.21 741.57L105.35 741.25L106.48 740.88L107.62 740.45L108.75 739.96L109.88 739.42L111.02 738.81L112.15 738.15L113.29 737.43L114.42 736.66L115.56 735.83L116.69 734.95L117.82 734.03L118.96 733.07L120.09 732.07L121.23 731.04L122.36 729.98L123.50 728.90L124.63 727.81L125.76 726.72L126.90 725.62L128.03 724.52L129.17 723.43L130.30 722.35L131.44 721.28L132.57 720.23L133.70 719.20L134.84 718.20L135.97 717.20L137.11 716.23L138.24 715.27L139.38 714.32L140.51 713.37L141.64 712.41L142.78 711.43L143.91 710.43L145.05 709.38L146.18 708.28L147.32 707.12L148.45 705.87L149.58 704.53L150.72 703.09L151.85 701.54L152.99 699.86L154.12 698.07L155.26 696.15L156.39 694.11L157.53 691.96L158.66 689.69L159.79 687.32L160.93 684.87L162.06 682.33L163.20 679.73L164.33 677.07L165.47 674.38L166.60 671.65L167.73 668.91L168.87 666.15L170.00 663.38L171.14 660.61L172.27 657.84L173.41 655.08L174.54 652.32L175.67 649.57L176.81 646.82L177.94 644.08L179.08 641.36L180.21 638.65L181.35 635.96L182.48 633.31L183.61 630.70L184.75 628.16L185.88 625.70L187.02 623.34L188.15 621.11L189.29 619.03L190.42 617.14L191.55 615.44L192.69 613.98L193.82 612.77L194.96 611.84L196.09 611.20L197.23 610.86L198.36 610.83L199.49 611.12L200.63 611.71L201.76 612.60L202.90 613.78L204.03 615.23L205.17 616.93L206.30 618.86L207.43 620.98L208.57 623.28L209.70 625.73L210.84 628.31L211.97 630.99L213.11 633.75L214.24 636.56L215.37 639.42L216.51 642.31L217.64 645.21L218.78 648.10L219.91 650.99L221.05 653.86L222.18 656.71L223.32 659.52L224.45 662.30L225.58 665.03L226.72 667.72L227.85 670.37L228.99 672.96L230.12 675.51L231.26 678.00L232.39 680.43L233.52 682.81L234.66 685.14L235.79 687.41L236.93 689.63L238.06 691.81L239.20 693.95L240.33 696.06L241.46 698.13L242.60 700.18L243.73 702.22L244.87 704.25L246.00 706.28L247.14 708.31L248.27 710.35L249.40 712.39L250.54 714.44L251.67 716.48L252.81 718.53L253.94 720.55L255.08 722.56L256.21 724.53L257.34 726.45L258.48 728.30L259.61 730.09L260.75 731.79L261.88 733.39L263.02 734.89L264.15 736.27L265.28 737.54L266.42 738.69L267.55 739.73L268.69 740.64L269.82 741.44L270.96 742.14L272.09 742.72L273.22 743.21L274.36 743.61L275.49 743.93L276.63 744.16L277.76 744.33L278.90 744.42L280.03 744.47L281.16 744.46L282.30 744.41L283.43 744.33L284.57 744.22L285.70 744.10L286.84 743.97L287.97 743.85L289.10 743.73L290.24 743.64L291.37 743.57L292.51 743.54L293.64 743.54L294.78 743.58L295.91 743.66L297.05 743.78L298.18 743.93L299.31 744.12" fill="none" stroke="#2f7fb9" stroke-width="1.08" stroke-linejoin="round"/>
<rect x="62.30" y="579.30" width="248.30" height="168.30" fill="none" stroke="#626262" stroke-width="1.0"/>
<g stroke="#3a3a3a" stroke-width="0.9">
<path d="M78.30 747.60v2.8"/>
<path d="M116.00 747.60v2.8"/>
<path d="M153.70 747.60v2.8"/>
<path d="M191.40 747.60v2.8"/>
<path d="M229.10 747.60v2.8"/>
<path d="M266.80 747.60v2.8"/>
<path d="M304.50 747.60v2.8"/>
<path d="M62.30 747.60h-2.8"/>
<path d="M62.30 723.68h-2.8"/>
<path d="M62.30 699.75h-2.8"/>
<path d="M62.30 675.83h-2.8"/>
<path d="M62.30 651.91h-2.8"/>
<path d="M62.30 627.98h-2.8"/>
<path d="M62.30 604.06h-2.8"/>
<path d="M62.30 580.14h-2.8"/>
</g>
<text x="78.30" y="758.80" font-size="9.7" text-anchor="middle" fill="#000" stroke="#000" stroke-width="0.15" letter-spacing="0.573" textLength="30.11" lengthAdjust="spacingAndGlyphs">−1500</text>
<text x="116.00" y="758.80" font-size="9.7" text-anchor="middle" fill="#000" stroke="#000" stroke-width="0.15" letter-spacing="0.573" textLength="30.11" lengthAdjust="spacingAndGlyphs">−1000</text>
<text x="153.70" y="758.80" font-size="9.7" text-anchor="middle" fill="#000" stroke="#000" stroke-width="0.15" letter-spacing="0.649" textLength="24.45" lengthAdjust="spacingAndGlyphs">−500</text>
<text x="191.40" y="758.80" font-size="9.7" text-anchor="middle" fill="#000" stroke="#000" stroke-width="0.15" letter-spacing="0.268" textLength="5.66" lengthAdjust="spacingAndGlyphs">0</text>
<text x="229.10" y="758.80" font-size="9.7" text-anchor="middle" fill="#000" stroke="#000" stroke-width="0.15" letter-spacing="0.268" textLength="16.99" lengthAdjust="spacingAndGlyphs">500</text>
<text x="266.80" y="758.80" font-size="9.7" text-anchor="middle" fill="#000" stroke="#000" stroke-width="0.15" letter-spacing="0.268" textLength="22.65" lengthAdjust="spacingAndGlyphs">1000</text>
<text x="304.50" y="758.80" font-size="9.7" text-anchor="middle" fill="#000" stroke="#000" stroke-width="0.15" letter-spacing="0.268" textLength="22.65" lengthAdjust="spacingAndGlyphs">1500</text>
<text x="57.40" y="751.60" font-size="9.7" text-anchor="end" fill="#000" stroke="#000" stroke-width="0.15" letter-spacing="0.268" textLength="5.66" lengthAdjust="spacingAndGlyphs">0</text>
<text x="57.40" y="727.68" font-size="9.7" text-anchor="end" fill="#000" stroke="#000" stroke-width="0.15" letter-spacing="0.268" textLength="11.33" lengthAdjust="spacingAndGlyphs">10</text>
<text x="57.40" y="703.75" font-size="9.7" text-anchor="end" fill="#000" stroke="#000" stroke-width="0.15" letter-spacing="0.268" textLength="11.33" lengthAdjust="spacingAndGlyphs">20</text>
<text x="57.40" y="679.83" font-size="9.7" text-anchor="end" fill="#000" stroke="#000" stroke-width="0.15" letter-spacing="0.268" textLength="11.33" lengthAdjust="spacingAndGlyphs">30</text>
<text x="57.40" y="655.91" font-size="9.7" text-anchor="end" fill="#000" stroke="#000" stroke-width="0.15" letter-spacing="0.268" textLength="11.33" lengthAdjust="spacingAndGlyphs">40</text>
<text x="57.40" y="631.98" font-size="9.7" text-anchor="end" fill="#000" stroke="#000" stroke-width="0.15" letter-spacing="0.268" textLength="11.33" lengthAdjust="spacingAndGlyphs">50</text>
<text x="57.40" y="608.06" font-size="9.7" text-anchor="end" fill="#000" stroke="#000" stroke-width="0.15" letter-spacing="0.268" textLength="11.33" lengthAdjust="spacingAndGlyphs">60</text>
<text x="57.40" y="584.14" font-size="9.7" text-anchor="end" fill="#000" stroke="#000" stroke-width="0.15" letter-spacing="0.268" textLength="11.33" lengthAdjust="spacingAndGlyphs">70</text>
<text x="186.45" y="770.50" font-size="9.7" text-anchor="middle" fill="#000" stroke="#000" stroke-width="0.15" letter-spacing="0.137" textLength="62.69" lengthAdjust="spacingAndGlyphs">Residual (kW)</text>
<text transform="translate(42.20 663.45) rotate(-90)" font-size="9.7" text-anchor="middle" fill="#000" stroke="#000" stroke-width="0.15" letter-spacing="0.131" textLength="47.01" lengthAdjust="spacingAndGlyphs">Frequency</text>
<text x="186.45" y="575.30" font-size="11.7" text-anchor="middle" fill="#000" stroke="#000" stroke-width="0.15" letter-spacing="0.324" textLength="194.39" lengthAdjust="spacingAndGlyphs">Residual Distribution – InformerLite</text>
<text x="189.70" y="804.90" font-size="22" text-anchor="middle" fill="#111">(e)</text>
</g>
<g id="pf">
<g fill="#8fbbda" stroke="#222" stroke-width="0.9">
<rect x="412.92" y="744.88" width="9.60" height="2.72"/>
<rect x="432.12" y="744.88" width="9.60" height="2.72"/>
<rect x="441.71" y="744.88" width="9.60" height="2.72"/>
<rect x="451.31" y="744.88" width="9.60" height="2.72"/>
<rect x="460.91" y="742.16" width="9.60" height="5.44"/>
<rect x="470.51" y="734.01" width="9.60" height="13.59"/>
<rect x="480.11" y="720.42" width="9.60" height="27.18"/>
<rect x="489.71" y="712.26" width="9.60" height="35.34"/>
<rect x="499.30" y="693.23" width="9.60" height="54.37"/>
<rect x="508.90" y="649.74" width="9.60" height="97.86"/>
<rect x="518.50" y="617.12" width="9.60" height="130.48"/>
<rect x="528.10" y="592.66" width="9.60" height="154.94"/>
<rect x="537.70" y="587.22" width="9.60" height="160.38"/>
<rect x="547.30" y="611.68" width="9.60" height="135.92"/>
<rect x="556.90" y="603.53" width="9.60" height="144.07"/>
<rect x="566.49" y="668.77" width="9.60" height="78.83"/>
<rect x="576.09" y="706.83" width="9.60" height="40.77"/>
<rect x="585.69" y="725.85" width="9.60" height="21.75"/>
<rect x="595.29" y="734.01" width="9.60" height="13.59"/>
<rect x="604.89" y="742.16" width="9.60" height="5.44"/>
<rect x="614.49" y="744.88" width="9.60" height="2.72"/>
<rect x="624.08" y="744.88" width="9.60" height="2.72"/>
<rect x="633.68" y="742.16" width="9.60" height="5.44"/>
</g>
<path d="M412.92 746.48L414.08 746.38L415.23 746.30L416.39 746.24L417.55 746.20L418.71 746.19L419.86 746.19L421.02 746.21L422.18 746.23L423.34 746.26L424.49 746.28L425.65 746.30L426.81 746.29L427.97 746.27L429.12 746.22L430.28 746.15L431.44 746.06L432.60 745.95L433.76 745.84L434.91 745.71L436.07 745.59L437.23 745.47L438.39 745.36L439.54 745.26L440.70 745.17L441.86 745.09L443.02 745.02L444.17 744.96L445.33 744.90L446.49 744.84L447.65 744.78L448.80 744.71L449.96 744.63L451.12 744.53L452.28 744.42L453.43 744.28L454.59 744.11L455.75 743.91L456.91 743.68L458.06 743.40L459.22 743.08L460.38 742.71L461.54 742.29L462.70 741.81L463.85 741.26L465.01 740.66L466.17 739.99L467.33 739.25L468.48 738.44L469.64 737.56L470.80 736.62L471.96 735.61L473.11 734.54L474.27 733.42L475.43 732.24L476.59 731.02L477.74 729.77L478.90 728.48L480.06 727.16L481.22 725.83L482.37 724.49L483.53 723.13L484.69 721.75L485.85 720.36L487.00 718.95L488.16 717.50L489.32 716.01L490.48 714.46L491.64 712.83L492.79 711.11L493.95 709.27L495.11 707.30L496.27 705.17L497.42 702.88L498.58 700.41L499.74 697.73L500.90 694.86L502.05 691.79L503.21 688.51L504.37 685.04L505.53 681.38L506.68 677.57L507.84 673.62L509.00 669.55L510.16 665.40L511.31 661.20L512.47 656.98L513.63 652.76L514.79 648.57L515.95 644.44L517.10 640.38L518.26 636.42L519.42 632.56L520.58 628.83L521.73 625.23L522.89 621.78L524.05 618.48L525.21 615.35L526.36 612.40L527.52 609.63L528.68 607.07L529.84 604.73L530.99 602.61L532.15 600.74L533.31 599.12L534.47 597.77L535.62 596.69L536.78 595.89L537.94 595.37L539.10 595.13L540.25 595.15L541.41 595.43L542.57 595.93L543.73 596.64L544.89 597.52L546.04 598.55L547.20 599.68L548.36 600.90L549.52 602.19L550.67 603.53L551.83 604.93L552.99 606.40L554.15 607.98L555.30 609.69L556.46 611.59L557.62 613.73L558.78 616.14L559.93 618.89L561.09 621.98L562.25 625.45L563.41 629.30L564.56 633.49L565.72 638.00L566.88 642.78L568.04 647.76L569.20 652.89L570.35 658.09L571.51 663.29L572.67 668.44L573.83 673.48L574.98 678.37L576.14 683.06L577.30 687.53L578.46 691.77L579.61 695.76L580.77 699.50L581.93 702.99L583.09 706.24L584.24 709.24L585.40 712.03L586.56 714.59L587.72 716.96L588.87 719.14L590.03 721.15L591.19 723.00L592.35 724.71L593.50 726.29L594.66 727.76L595.82 729.12L596.98 730.39L598.14 731.59L599.29 732.72L600.45 733.78L601.61 734.79L602.77 735.75L603.92 736.66L605.08 737.51L606.24 738.32L607.40 739.08L608.55 739.78L609.71 740.44L610.87 741.03L612.03 741.57L613.18 742.06L614.34 742.49L615.50 742.87L616.66 743.19L617.81 743.47L618.97 743.70L620.13 743.88L621.29 744.03L622.44 744.13L623.60 744.20L624.76 744.24L625.92 744.25L627.08 744.23L628.23 744.21L629.39 744.17L630.55 744.13L631.71 744.10L632.86 744.08L634.02 744.08L635.18 744.10L636.34 744.16L637.49 744.25L638.65 744.38L639.81 744.54L640.97 744.74L642.12 744.96L643.28 745.20" fill="none" stroke="#2f7fb9" stroke-width="1.08" stroke-linejoin="round"/>
<rect x="401.40" y="579.20" width="253.40" height="168.40" fill="none" stroke="#626262" stroke-width="1.0"/>
<g stroke="#3a3a3a" stroke-width="0.9">
<path d="M416.72 747.60v2.8"/>
<path d="M447.79 747.60v2.8"/>
<path d="M478.86 747.60v2.8"/>
<path d="M509.93 747.60v2.8"/>
<path d="M541.00 747.60v2.8"/>
<path d="M572.07 747.60v2.8"/>
<path d="M603.14 747.60v2.8"/>
<path d="M634.21 747.60v2.8"/>
<path d="M401.40 747.60h-2.8"/>
<path d="M401.40 720.42h-2.8"/>
<path d="M401.40 693.23h-2.8"/>
<path d="M401.40 666.05h-2.8"/>
<path d="M401.40 638.87h-2.8"/>
<path d="M401.40 611.68h-2.8"/>
<path d="M401.40 584.50h-2.8"/>
</g>
<text x="416.72" y="758.80" font-size="9.7" text-anchor="middle" fill="#000" stroke="#000" stroke-width="0.15" letter-spacing="0.573" textLength="30.11" lengthAdjust="spacingAndGlyphs">−2000</text>
<text x="447.79" y="758.80" font-size="9.7" text-anchor="middle" fill="#000" stroke="#000" stroke-width="0.15" letter-spacing="0.573" textLength="30.11" lengthAdjust="spacingAndGlyphs">−1500</text>
<text x="478.86" y="758.80" font-size="9.7" text-anchor="middle" fill="#000" stroke="#000" stroke-width="0.15" letter-spacing="0.573" textLength="30.11" lengthAdjust="spacingAndGlyphs">−1000</text>
<text x="509.93" y="758.80" font-size="9.7" text-anchor="middle" fill="#000" stroke="#000" stroke-width="0.15" letter-spacing="0.649" textLength="24.45" lengthAdjust="spacingAndGlyphs">−500</text>
<text x="541.00" y="758.80" font-size="9.7" text-anchor="middle" fill="#000" stroke="#000" stroke-width="0.15" letter-spacing="0.268" textLength="5.66" lengthAdjust="spacingAndGlyphs">0</text>
<text x="572.07" y="758.80" font-size="9.7" text-anchor="middle" fill="#000" stroke="#000" stroke-width="0.15" letter-spacing="0.268" textLength="16.99" lengthAdjust="spacingAndGlyphs">500</text>
<text x="603.14" y="758.80" font-size="9.7" text-anchor="middle" fill="#000" stroke="#000" stroke-width="0.15" letter-spacing="0.268" textLength="22.65" lengthAdjust="spacingAndGlyphs">1000</text>
<text x="634.21" y="758.80" font-size="9.7" text-anchor="middle" fill="#000" stroke="#000" stroke-width="0.15" letter-spacing="0.268" textLength="22.65" lengthAdjust="spacingAndGlyphs">1500</text>
<text x="396.50" y="751.60" font-size="9.7" text-anchor="end" fill="#000" stroke="#000" stroke-width="0.15" letter-spacing="0.268" textLength="5.66" lengthAdjust="spacingAndGlyphs">0</text>
<text x="396.50" y="724.42" font-size="9.7" text-anchor="end" fill="#000" stroke="#000" stroke-width="0.15" letter-spacing="0.268" textLength="11.33" lengthAdjust="spacingAndGlyphs">10</text>
<text x="396.50" y="697.23" font-size="9.7" text-anchor="end" fill="#000" stroke="#000" stroke-width="0.15" letter-spacing="0.268" textLength="11.33" lengthAdjust="spacingAndGlyphs">20</text>
<text x="396.50" y="670.05" font-size="9.7" text-anchor="end" fill="#000" stroke="#000" stroke-width="0.15" letter-spacing="0.268" textLength="11.33" lengthAdjust="spacingAndGlyphs">30</text>
<text x="396.50" y="642.87" font-size="9.7" text-anchor="end" fill="#000" stroke="#000" stroke-width="0.15" letter-spacing="0.268" textLength="11.33" lengthAdjust="spacingAndGlyphs">40</text>
<text x="396.50" y="615.68" font-size="9.7" text-anchor="end" fill="#000" stroke="#000" stroke-width="0.15" letter-spacing="0.268" textLength="11.33" lengthAdjust="spacingAndGlyphs">50</text>
<text x="396.50" y="588.50" font-size="9.7" text-anchor="end" fill="#000" stroke="#000" stroke-width="0.15" letter-spacing="0.268" textLength="11.33" lengthAdjust="spacingAndGlyphs">60</text>
<text x="528.10" y="770.50" font-size="9.7" text-anchor="middle" fill="#000" stroke="#000" stroke-width="0.15" letter-spacing="0.137" textLength="62.69" lengthAdjust="spacingAndGlyphs">Residual (kW)</text>
<text transform="translate(381.30 663.40) rotate(-90)" font-size="9.7" text-anchor="middle" fill="#000" stroke="#000" stroke-width="0.15" letter-spacing="0.131" textLength="47.01" lengthAdjust="spacingAndGlyphs">Frequency</text>
<text x="528.10" y="575.20" font-size="11.7" text-anchor="middle" fill="#000" stroke="#000" stroke-width="0.15" letter-spacing="0.218" textLength="188.62" lengthAdjust="spacingAndGlyphs">Residual Distribution – SimpleRNN</text>
<text x="528.50" y="804.90" font-size="22" text-anchor="middle" fill="#111">(f)</text>
</g>
<g id="pg">
<g fill="#8fbbda" stroke="#222" stroke-width="0.9">
<rect x="73.84" y="1013.31" width="7.21" height="2.59"/>
<rect x="95.47" y="1010.73" width="7.21" height="5.17"/>
<rect x="102.68" y="1013.31" width="7.21" height="2.59"/>
<rect x="109.89" y="1010.73" width="7.21" height="5.17"/>
<rect x="117.10" y="1010.73" width="7.21" height="5.17"/>
<rect x="124.31" y="1008.14" width="7.21" height="7.76"/>
<rect x="131.52" y="1013.31" width="7.21" height="2.59"/>
<rect x="138.73" y="1002.97" width="7.21" height="12.93"/>
<rect x="145.94" y="995.22" width="7.21" height="20.68"/>
<rect x="153.15" y="990.05" width="7.21" height="25.85"/>
<rect x="160.36" y="971.95" width="7.21" height="43.95"/>
<rect x="167.57" y="982.29" width="7.21" height="33.61"/>
<rect x="174.78" y="956.44" width="7.21" height="59.46"/>
<rect x="181.99" y="909.90" width="7.21" height="106.00"/>
<rect x="189.20" y="868.54" width="7.21" height="147.36"/>
<rect x="196.41" y="871.13" width="7.21" height="144.77"/>
<rect x="203.62" y="855.61" width="7.21" height="160.29"/>
<rect x="210.83" y="915.08" width="7.21" height="100.82"/>
<rect x="218.04" y="935.76" width="7.21" height="80.14"/>
<rect x="225.25" y="982.29" width="7.21" height="33.61"/>
<rect x="232.46" y="984.88" width="7.21" height="31.02"/>
<rect x="239.67" y="990.05" width="7.21" height="25.85"/>
<rect x="246.88" y="1008.14" width="7.21" height="7.76"/>
<rect x="254.09" y="1013.31" width="7.21" height="2.59"/>
<rect x="261.30" y="1010.73" width="7.21" height="5.17"/>
<rect x="268.51" y="1013.31" width="7.21" height="2.59"/>
<rect x="282.93" y="1008.14" width="7.21" height="7.76"/>
<rect x="297.35" y="1013.31" width="7.21" height="2.59"/>
</g>
<path d="M73.84 1015.05L75.00 1015.00L76.16 1014.96L77.31 1014.93L78.47 1014.91L79.63 1014.90L80.79 1014.89L81.95 1014.89L83.11 1014.88L84.27 1014.86L85.43 1014.83L86.59 1014.77L87.75 1014.70L88.91 1014.59L90.07 1014.47L91.23 1014.32L92.39 1014.15L93.55 1013.96L94.71 1013.76L95.87 1013.56L97.03 1013.35L98.18 1013.15L99.34 1012.96L100.50 1012.78L101.66 1012.61L102.82 1012.45L103.98 1012.30L105.14 1012.16L106.30 1012.03L107.46 1011.90L108.62 1011.77L109.78 1011.65L110.94 1011.52L112.10 1011.39L113.26 1011.25L114.42 1011.12L115.58 1010.99L116.74 1010.85L117.89 1010.72L119.05 1010.60L120.21 1010.48L121.37 1010.36L122.53 1010.25L123.69 1010.14L124.85 1010.03L126.01 1009.90L127.17 1009.77L128.33 1009.60L129.49 1009.41L130.65 1009.17L131.81 1008.87L132.97 1008.51L134.13 1008.07L135.29 1007.56L136.45 1006.96L137.61 1006.28L138.76 1005.51L139.92 1004.66L141.08 1003.74L142.24 1002.75L143.40 1001.70L144.56 1000.60L145.72 999.45L146.88 998.26L148.04 997.04L149.20 995.79L150.36 994.51L151.52 993.21L152.68 991.90L153.84 990.57L155.00 989.23L156.16 987.90L157.32 986.56L158.48 985.23L159.63 983.90L160.79 982.57L161.95 981.24L163.11 979.88L164.27 978.48L165.43 977.00L166.59 975.41L167.75 973.67L168.91 971.75L170.07 969.60L171.23 967.18L172.39 964.47L173.55 961.43L174.71 958.05L175.87 954.33L177.03 950.29L178.19 945.93L179.34 941.31L180.50 936.45L181.66 931.42L182.82 926.28L183.98 921.10L185.14 915.94L186.30 910.88L187.46 905.97L188.62 901.28L189.78 896.88L190.94 892.79L192.10 889.07L193.26 885.75L194.42 882.85L195.58 880.40L196.74 878.41L197.90 876.90L199.06 875.88L200.21 875.35L201.37 875.34L202.53 875.84L203.69 876.87L204.85 878.41L206.01 880.47L207.17 883.02L208.33 886.05L209.49 889.51L210.65 893.37L211.81 897.57L212.97 902.06L214.13 906.78L215.29 911.69L216.45 916.70L217.61 921.79L218.77 926.89L219.92 931.96L221.08 936.95L222.24 941.82L223.40 946.55L224.56 951.09L225.72 955.42L226.88 959.51L228.04 963.34L229.20 966.91L230.36 970.21L231.52 973.24L232.68 976.01L233.84 978.55L235.00 980.87L236.16 983.02L237.32 985.01L238.48 986.87L239.64 988.65L240.79 990.36L241.95 992.02L243.11 993.65L244.27 995.24L245.43 996.81L246.59 998.35L247.75 999.85L248.91 1001.29L250.07 1002.66L251.23 1003.95L252.39 1005.15L253.55 1006.25L254.71 1007.24L255.87 1008.11L257.03 1008.88L258.19 1009.54L259.35 1010.11L260.51 1010.59L261.66 1011.00L262.82 1011.34L263.98 1011.63L265.14 1011.88L266.30 1012.10L267.46 1012.29L268.62 1012.46L269.78 1012.60L270.94 1012.73L272.10 1012.84L273.26 1012.93L274.42 1012.99L275.58 1013.02L276.74 1013.03L277.90 1013.02L279.06 1012.99L280.22 1012.95L281.37 1012.90L282.53 1012.85L283.69 1012.81L284.85 1012.79L286.01 1012.78L287.17 1012.81L288.33 1012.86L289.49 1012.94L290.65 1013.05L291.81 1013.17L292.97 1013.31L294.13 1013.46L295.29 1013.62L296.45 1013.78L297.61 1013.94L298.77 1014.10L299.93 1014.25L301.09 1014.40L302.24 1014.54L303.40 1014.68L304.56 1014.81" fill="none" stroke="#2f7fb9" stroke-width="1.08" stroke-linejoin="round"/>
<rect x="62.30" y="847.60" width="253.80" height="168.30" fill="none" stroke="#626262" stroke-width="1.0"/>
<g stroke="#3a3a3a" stroke-width="0.9">
<path d="M68.40 1015.90v2.8"/>
<path d="M100.80 1015.90v2.8"/>
<path d="M133.20 1015.90v2.8"/>
<path d="M165.60 1015.90v2.8"/>
<path d="M198.00 1015.90v2.8"/>
<path d="M230.40 1015.90v2.8"/>
<path d="M262.80 1015.90v2.8"/>
<path d="M295.20 1015.90v2.8"/>
<path d="M62.30 1015.90h-2.8"/>
<path d="M62.30 990.05h-2.8"/>
<path d="M62.30 964.19h-2.8"/>
<path d="M62.30 938.34h-2.8"/>
<path d="M62.30 912.49h-2.8"/>
<path d="M62.30 886.64h-2.8"/>
<path d="M62.30 860.78h-2.8"/>
</g>
<text x="68.40" y="1027.10" font-size="9.7" text-anchor="middle" fill="#000" stroke="#000" stroke-width="0.15" letter-spacing="0.573" textLength="30.11" lengthAdjust="spacingAndGlyphs">−2000</text>
<text x="100.80" y="1027.10" font-size="9.7" text-anchor="middle" fill="#000" stroke="#000" stroke-width="0.15" letter-spacing="0.573" textLength="30.11" lengthAdjust="spacingAndGlyphs">−1500</text>
<text x="133.20" y="1027.10" font-size="9.7" text-anchor="middle" fill="#000" stroke="#000" stroke-width="0.15" letter-spacing="0.573" textLength="30.11" lengthAdjust="spacingAndGlyphs">−1000</text>
<text x="165.60" y="1027.10" font-size="9.7" text-anchor="middle" fill="#000" stroke="#000" stroke-width="0.15" letter-spacing="0.649" textLength="24.45" lengthAdjust="spacingAndGlyphs">−500</text>
<text x="198.00" y="1027.10" font-size="9.7" text-anchor="middle" fill="#000" stroke="#000" stroke-width="0.15" letter-spacing="0.268" textLength="5.66" lengthAdjust="spacingAndGlyphs">0</text>
<text x="230.40" y="1027.10" font-size="9.7" text-anchor="middle" fill="#000" stroke="#000" stroke-width="0.15" letter-spacing="0.268" textLength="16.99" lengthAdjust="spacingAndGlyphs">500</text>
<text x="262.80" y="1027.10" font-size="9.7" text-anchor="middle" fill="#000" stroke="#000" stroke-width="0.15" letter-spacing="0.268" textLength="22.65" lengthAdjust="spacingAndGlyphs">1000</text>
<text x="295.20" y="1027.10" font-size="9.7" text-anchor="middle" fill="#000" stroke="#000" stroke-width="0.15" letter-spacing="0.268" textLength="22.65" lengthAdjust="spacingAndGlyphs">1500</text>
<text x="57.40" y="1019.90" font-size="9.7" text-anchor="end" fill="#000" stroke="#000" stroke-width="0.15" letter-spacing="0.268" textLength="5.66" lengthAdjust="spacingAndGlyphs">0</text>
<text x="57.40" y="994.05" font-size="9.7" text-anchor="end" fill="#000" stroke="#000" stroke-width="0.15" letter-spacing="0.268" textLength="11.33" lengthAdjust="spacingAndGlyphs">10</text>
<text x="57.40" y="968.19" font-size="9.7" text-anchor="end" fill="#000" stroke="#000" stroke-width="0.15" letter-spacing="0.268" textLength="11.33" lengthAdjust="spacingAndGlyphs">20</text>
<text x="57.40" y="942.34" font-size="9.7" text-anchor="end" fill="#000" stroke="#000" stroke-width="0.15" letter-spacing="0.268" textLength="11.33" lengthAdjust="spacingAndGlyphs">30</text>
<text x="57.40" y="916.49" font-size="9.7" text-anchor="end" fill="#000" stroke="#000" stroke-width="0.15" letter-spacing="0.268" textLength="11.33" lengthAdjust="spacingAndGlyphs">40</text>
<text x="57.40" y="890.64" font-size="9.7" text-anchor="end" fill="#000" stroke="#000" stroke-width="0.15" letter-spacing="0.268" textLength="11.33" lengthAdjust="spacingAndGlyphs">50</text>
<text x="57.40" y="864.78" font-size="9.7" text-anchor="end" fill="#000" stroke="#000" stroke-width="0.15" letter-spacing="0.268" textLength="11.33" lengthAdjust="spacingAndGlyphs">60</text>
<text x="189.20" y="1038.80" font-size="9.7" text-anchor="middle" fill="#000" stroke="#000" stroke-width="0.15" letter-spacing="0.137" textLength="62.69" lengthAdjust="spacingAndGlyphs">Residual (kW)</text>
<text transform="translate(42.20 931.75) rotate(-90)" font-size="9.7" text-anchor="middle" fill="#000" stroke="#000" stroke-width="0.15" letter-spacing="0.131" textLength="47.01" lengthAdjust="spacingAndGlyphs">Frequency</text>
<text x="189.20" y="843.60" font-size="11.7" text-anchor="middle" fill="#000" stroke="#000" stroke-width="0.15" letter-spacing="0.175" textLength="148.88" lengthAdjust="spacingAndGlyphs">Residual Distribution – TCN</text>
<text x="189.70" y="1072.90" font-size="22" text-anchor="middle" fill="#111">(g)</text>
</g>
<g id="ph">
<g fill="#8fbbda" stroke="#222" stroke-width="0.9">
<rect x="412.45" y="1013.51" width="5.82" height="2.39"/>
<rect x="418.27" y="1013.51" width="5.82" height="2.39"/>
<rect x="435.71" y="1013.51" width="5.82" height="2.39"/>
<rect x="447.34" y="1013.51" width="5.82" height="2.39"/>
<rect x="453.16" y="1013.51" width="5.82" height="2.39"/>
<rect x="458.98" y="1008.72" width="5.82" height="7.18"/>
<rect x="464.79" y="1013.51" width="5.82" height="2.39"/>
<rect x="470.61" y="1011.12" width="5.82" height="4.78"/>
<rect x="476.42" y="1013.51" width="5.82" height="2.39"/>
<rect x="482.24" y="1001.55" width="5.82" height="14.35"/>
<rect x="488.06" y="989.58" width="5.82" height="26.32"/>
<rect x="493.87" y="994.37" width="5.82" height="21.53"/>
<rect x="499.69" y="996.76" width="5.82" height="19.14"/>
<rect x="505.50" y="972.84" width="5.82" height="43.06"/>
<rect x="511.32" y="951.31" width="5.82" height="64.59"/>
<rect x="517.13" y="929.78" width="5.82" height="86.12"/>
<rect x="522.95" y="855.61" width="5.82" height="160.29"/>
<rect x="528.77" y="869.97" width="5.82" height="145.93"/>
<rect x="534.58" y="886.71" width="5.82" height="129.19"/>
<rect x="540.40" y="920.21" width="5.82" height="95.69"/>
<rect x="546.21" y="975.23" width="5.82" height="40.67"/>
<rect x="552.03" y="984.80" width="5.82" height="31.10"/>
<rect x="557.84" y="982.41" width="5.82" height="33.49"/>
<rect x="563.66" y="994.37" width="5.82" height="21.53"/>
<rect x="569.48" y="999.15" width="5.82" height="16.75"/>
<rect x="581.11" y="1011.12" width="5.82" height="4.78"/>
<rect x="586.92" y="1011.12" width="5.82" height="4.78"/>
<rect x="592.74" y="1013.51" width="5.82" height="2.39"/>
<rect x="610.19" y="1008.72" width="5.82" height="7.18"/>
<rect x="616.00" y="1013.51" width="5.82" height="2.39"/>
<rect x="621.82" y="1013.51" width="5.82" height="2.39"/>
<rect x="627.63" y="1013.51" width="5.82" height="2.39"/>
</g>
<path d="M412.45 1014.81L413.56 1014.69L414.67 1014.59L415.78 1014.51L416.89 1014.46L418.00 1014.43L419.11 1014.44L420.22 1014.46L421.33 1014.52L422.44 1014.59L423.56 1014.67L424.67 1014.76L425.78 1014.85L426.89 1014.93L428.00 1015.00L429.11 1015.05L430.22 1015.07L431.33 1015.08L432.44 1015.07L433.55 1015.05L434.66 1015.01L435.77 1014.96L436.88 1014.91L437.99 1014.85L439.10 1014.80L440.21 1014.74L441.32 1014.67L442.43 1014.60L443.55 1014.52L444.66 1014.43L445.77 1014.32L446.88 1014.19L447.99 1014.04L449.10 1013.87L450.21 1013.69L451.32 1013.48L452.43 1013.27L453.54 1013.05L454.65 1012.83L455.76 1012.61L456.87 1012.41L457.98 1012.22L459.09 1012.06L460.20 1011.93L461.31 1011.82L462.42 1011.74L463.54 1011.69L464.65 1011.66L465.76 1011.63L466.87 1011.62L467.98 1011.59L469.09 1011.54L470.20 1011.45L471.31 1011.31L472.42 1011.11L473.53 1010.82L474.64 1010.44L475.75 1009.96L476.86 1009.37L477.97 1008.66L479.08 1007.83L480.19 1006.90L481.30 1005.86L482.41 1004.75L483.53 1003.59L484.64 1002.39L485.75 1001.20L486.86 1000.03L487.97 998.91L489.08 997.86L490.19 996.89L491.30 996.00L492.41 995.17L493.52 994.40L494.63 993.64L495.74 992.86L496.85 992.01L497.96 991.04L499.07 989.91L500.18 988.57L501.29 986.98L502.40 985.12L503.52 982.96L504.63 980.48L505.74 977.69L506.85 974.59L507.96 971.17L509.07 967.44L510.18 963.40L511.29 959.07L512.40 954.45L513.51 949.54L514.62 944.37L515.73 938.95L516.84 933.32L517.95 927.56L519.06 921.71L520.17 915.89L521.28 910.21L522.39 904.77L523.51 899.72L524.62 895.17L525.73 891.24L526.84 888.03L527.95 885.61L529.06 884.02L530.17 883.29L531.28 883.43L532.39 884.40L533.50 886.18L534.61 888.71L535.72 891.92L536.83 895.76L537.94 900.16L539.05 905.03L540.16 910.30L541.27 915.88L542.38 921.68L543.50 927.60L544.61 933.54L545.72 939.40L546.83 945.09L547.94 950.52L549.05 955.61L550.16 960.32L551.27 964.60L552.38 968.44L553.49 971.83L554.60 974.82L555.71 977.42L556.82 979.70L557.93 981.71L559.04 983.50L560.15 985.14L561.26 986.67L562.37 988.13L563.49 989.57L564.60 991.01L565.71 992.46L566.82 993.93L567.93 995.42L569.04 996.94L570.15 998.45L571.26 999.96L572.37 1001.44L573.48 1002.87L574.59 1004.23L575.70 1005.50L576.81 1006.66L577.92 1007.70L579.03 1008.60L580.14 1009.38L581.25 1010.02L582.36 1010.55L583.48 1010.97L584.59 1011.31L585.70 1011.58L586.81 1011.81L587.92 1012.01L589.03 1012.20L590.14 1012.39L591.25 1012.58L592.36 1012.78L593.47 1013.00L594.58 1013.21L595.69 1013.43L596.80 1013.64L597.91 1013.83L599.02 1013.98L600.13 1014.10L601.24 1014.18L602.35 1014.20L603.47 1014.17L604.58 1014.08L605.69 1013.95L606.80 1013.79L607.91 1013.59L609.02 1013.39L610.13 1013.18L611.24 1012.99L612.35 1012.83L613.46 1012.70L614.57 1012.61L615.68 1012.57L616.79 1012.57L617.90 1012.61L619.01 1012.68L620.12 1012.78L621.23 1012.90L622.34 1013.04L623.46 1013.18L624.57 1013.34L625.68 1013.49L626.79 1013.66L627.90 1013.82L629.01 1013.99L630.12 1014.16L631.23 1014.33L632.34 1014.50L633.45 1014.68" fill="none" stroke="#2f7fb9" stroke-width="1.08" stroke-linejoin="round"/>
<rect x="401.40" y="847.60" width="243.10" height="168.30" fill="none" stroke="#626262" stroke-width="1.0"/>
<g stroke="#3a3a3a" stroke-width="0.9">
<path d="M415.90 1015.90v2.8"/>
<path d="M472.65 1015.90v2.8"/>
<path d="M529.40 1015.90v2.8"/>
<path d="M586.15 1015.90v2.8"/>
<path d="M642.90 1015.90v2.8"/>
<path d="M401.40 1015.90h-2.8"/>
<path d="M401.40 991.98h-2.8"/>
<path d="M401.40 968.05h-2.8"/>
<path d="M401.40 944.13h-2.8"/>
<path d="M401.40 920.21h-2.8"/>
<path d="M401.40 896.28h-2.8"/>
<path d="M401.40 872.36h-2.8"/>
<path d="M401.40 848.44h-2.8"/>
</g>
<text x="415.90" y="1027.10" font-size="9.7" text-anchor="middle" fill="#000" stroke="#000" stroke-width="0.15" letter-spacing="0.573" textLength="30.11" lengthAdjust="spacingAndGlyphs">−2000</text>
<text x="472.65" y="1027.10" font-size="9.7" text-anchor="middle" fill="#000" stroke="#000" stroke-width="0.15" letter-spacing="0.573" textLength="30.11" lengthAdjust="spacingAndGlyphs">−1000</text>
<text x="529.40" y="1027.10" font-size="9.7" text-anchor="middle" fill="#000" stroke="#000" stroke-width="0.15" letter-spacing="0.268" textLength="5.66" lengthAdjust="spacingAndGlyphs">0</text>
<text x="586.15" y="1027.10" font-size="9.7" text-anchor="middle" fill="#000" stroke="#000" stroke-width="0.15" letter-spacing="0.268" textLength="22.65" lengthAdjust="spacingAndGlyphs">1000</text>
<text x="642.90" y="1027.10" font-size="9.7" text-anchor="middle" fill="#000" stroke="#000" stroke-width="0.15" letter-spacing="0.268" textLength="22.65" lengthAdjust="spacingAndGlyphs">2000</text>
<text x="396.50" y="1019.90" font-size="9.7" text-anchor="end" fill="#000" stroke="#000" stroke-width="0.15" letter-spacing="0.268" textLength="5.66" lengthAdjust="spacingAndGlyphs">0</text>
<text x="396.50" y="995.98" font-size="9.7" text-anchor="end" fill="#000" stroke="#000" stroke-width="0.15" letter-spacing="0.268" textLength="11.33" lengthAdjust="spacingAndGlyphs">10</text>
<text x="396.50" y="972.05" font-size="9.7" text-anchor="end" fill="#000" stroke="#000" stroke-width="0.15" letter-spacing="0.268" textLength="11.33" lengthAdjust="spacingAndGlyphs">20</text>
<text x="396.50" y="948.13" font-size="9.7" text-anchor="end" fill="#000" stroke="#000" stroke-width="0.15" letter-spacing="0.268" textLength="11.33" lengthAdjust="spacingAndGlyphs">30</text>
<text x="396.50" y="924.21" font-size="9.7" text-anchor="end" fill="#000" stroke="#000" stroke-width="0.15" letter-spacing="0.268" textLength="11.33" lengthAdjust="spacingAndGlyphs">40</text>
<text x="396.50" y="900.28" font-size="9.7" text-anchor="end" fill="#000" stroke="#000" stroke-width="0.15" letter-spacing="0.268" textLength="11.33" lengthAdjust="spacingAndGlyphs">50</text>
<text x="396.50" y="876.36" font-size="9.7" text-anchor="end" fill="#000" stroke="#000" stroke-width="0.15" letter-spacing="0.268" textLength="11.33" lengthAdjust="spacingAndGlyphs">60</text>
<text x="396.50" y="852.44" font-size="9.7" text-anchor="end" fill="#000" stroke="#000" stroke-width="0.15" letter-spacing="0.268" textLength="11.33" lengthAdjust="spacingAndGlyphs">70</text>
<text x="522.95" y="1038.80" font-size="9.7" text-anchor="middle" fill="#000" stroke="#000" stroke-width="0.15" letter-spacing="0.137" textLength="62.69" lengthAdjust="spacingAndGlyphs">Residual (kW)</text>
<text transform="translate(381.30 931.75) rotate(-90)" font-size="9.7" text-anchor="middle" fill="#000" stroke="#000" stroke-width="0.15" letter-spacing="0.131" textLength="47.01" lengthAdjust="spacingAndGlyphs">Frequency</text>
<text x="522.95" y="843.60" font-size="11.7" text-anchor="middle" fill="#000" stroke="#000" stroke-width="0.15" letter-spacing="0.323" textLength="197.31" lengthAdjust="spacingAndGlyphs">Residual Distribution – Autoencoder</text>
<text x="528.50" y="1072.90" font-size="22" text-anchor="middle" fill="#111">(h)</text>
</g>
</svg>
</body></html>
